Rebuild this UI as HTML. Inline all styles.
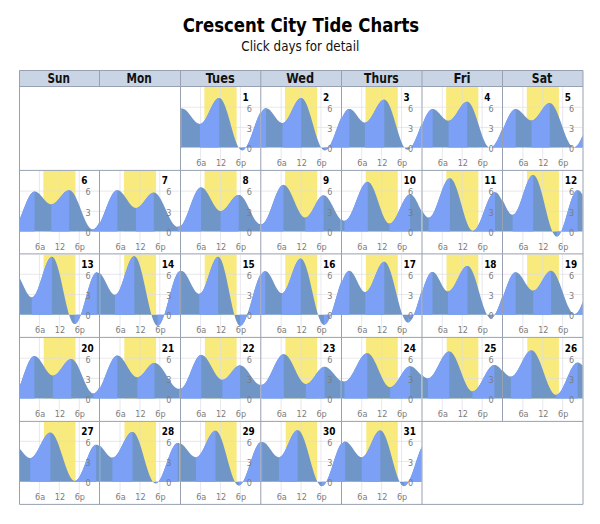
<!DOCTYPE html><html><head><meta charset="utf-8"><title>Crescent City Tide Charts</title><style>
html,body{margin:0;padding:0;background:#fff;}body{width:600px;height:524px;overflow:hidden;position:relative;}
svg{position:absolute;left:0;top:0;}
.t{font-family:"DejaVu Sans Condensed","DejaVu Sans",sans-serif;}
.dn{font-family:"DejaVu Sans Condensed","DejaVu Sans",sans-serif;font-weight:bold;font-size:9.9px;fill:#000;}
.yl{font-family:"DejaVu Sans Condensed","DejaVu Sans",sans-serif;font-size:9px;fill:#7c7c7c;}
.xl{font-family:"DejaVu Sans Condensed","DejaVu Sans",sans-serif;font-size:9px;fill:#7c7c7c;}
.hd{font-family:"DejaVu Sans Condensed","DejaVu Sans",sans-serif;font-weight:bold;font-size:13.4px;fill:#111;}
</style></head><body>
<svg width="600" height="524" viewBox="0 0 600 524">
<text class="t" transform="translate(300.95 31.7) scale(1 1.06)" x="0" y="0" text-anchor="middle" textLength="236.5" lengthAdjust="spacingAndGlyphs" style="font-weight:bold;font-size:18.4px;fill:#000">Crescent City Tide Charts</text>
<text class="t" x="300.3" y="51.4" text-anchor="middle" textLength="118" lengthAdjust="spacingAndGlyphs" style="font-size:13.2px;fill:#111">Click days for detail</text>
<rect x="19.5" y="70.5" width="563.5" height="16" fill="#C9D5E5"/>
<text class="hd" x="58.7" y="83" text-anchor="middle" textLength="22.4" lengthAdjust="spacingAndGlyphs">Sun</text>
<text class="hd" x="139.2" y="83" text-anchor="middle" textLength="25.2" lengthAdjust="spacingAndGlyphs">Mon</text>
<text class="hd" x="220.25" y="83" text-anchor="middle" textLength="29.1" lengthAdjust="spacingAndGlyphs">Tues</text>
<text class="hd" x="300.25" y="83" text-anchor="middle" textLength="27.9" lengthAdjust="spacingAndGlyphs">Wed</text>
<text class="hd" x="381.4" y="83" text-anchor="middle" textLength="34.6" lengthAdjust="spacingAndGlyphs">Thurs</text>
<text class="hd" x="462.05" y="83" text-anchor="middle" textLength="17.1" lengthAdjust="spacingAndGlyphs">Fri</text>
<text class="hd" x="542" y="83" text-anchor="middle" textLength="20.4" lengthAdjust="spacingAndGlyphs">Sat</text>
<clipPath id="c1"><rect x="180.69" y="87" width="79.6" height="78.6"/></clipPath>
<g clip-path="url(#c1)">
<rect x="204.34" y="87" width="32.3" height="60.6" fill="#F9EA7E"/>
<path d="M200.59 87V163.6M220.49 87V163.6M240.39 87V163.6M180.69 127.41H260.29M180.69 107.22H260.29" stroke="#DCDCE4" stroke-width="1" fill="none" opacity="0.65"/>
<polygon points="179.69,147.6 179.69,109.62 180.2,109.21 180.7,108.91 181.2,108.7 181.7,108.59 182.2,108.57 182.7,108.62 183.2,108.73 183.7,108.9 184.2,109.12 184.7,109.4 185.2,109.73 185.7,110.11 186.2,110.54 186.7,111.02 187.2,111.53 187.7,112.08 188.2,112.66 188.7,113.27 189.21,113.9 189.71,114.55 190.21,115.21 190.71,115.88 191.21,116.56 191.71,117.23 192.21,117.89 192.71,118.54 193.21,119.17 193.71,119.78 194.21,120.37 194.71,120.92 195.21,121.43 195.71,121.91 196.21,122.34 196.71,122.72 197.21,123.06 197.71,123.34 198.22,123.57 198.72,123.74 199.22,123.85 199.72,123.91 200.22,123.9 200.72,123.8 201.22,123.62 201.72,123.36 202.22,123.01 202.72,122.58 203.22,122.08 203.72,121.49 204.22,120.84 204.72,120.13 205.22,119.35 205.72,118.51 206.22,117.63 206.72,116.69 207.23,115.73 207.73,114.72 208.23,113.7 208.73,112.65 209.23,111.59 209.73,110.53 210.23,109.47 210.73,108.43 211.23,107.39 211.73,106.38 212.23,105.41 212.73,104.46 213.23,103.56 213.73,102.72 214.23,101.92 214.73,101.19 215.23,100.52 215.73,99.92 216.24,99.39 216.74,98.94 217.24,98.57 217.74,98.28 218.24,98.08 218.74,97.96 219.24,97.93 219.74,98.01 220.24,98.22 220.74,98.54 221.24,98.99 221.74,99.56 222.24,100.24 222.74,101.03 223.24,101.94 223.74,102.95 224.24,104.05 224.74,105.26 225.25,106.55 225.75,107.93 226.25,109.38 226.75,110.9 227.25,112.48 227.75,114.12 228.25,115.81 228.75,117.54 229.25,119.29 229.75,121.07 230.25,122.87 230.75,124.67 231.25,126.47 231.75,128.25 232.25,130.02 232.75,131.76 233.25,133.47 233.75,135.13 234.26,136.74 234.76,138.28 235.26,139.77 235.76,141.18 236.26,142.5 236.76,143.74 237.26,144.89 237.76,145.94 238.26,146.89 238.76,147.73 239.26,148.46 239.76,149.08 240.26,149.57 240.76,149.95 241.26,150.21 241.76,150.34 242.26,150.35 242.76,150.26 243.27,150.07 243.77,149.78 244.27,149.4 244.77,148.92 245.27,148.35 245.77,147.7 246.27,146.95 246.77,146.12 247.27,145.22 247.77,144.24 248.27,143.19 248.77,142.07 249.27,140.9 249.77,139.67 250.27,138.39 250.77,137.07 251.27,135.72 251.77,134.33 252.28,132.92 252.78,131.49 253.28,130.06 253.78,128.61 254.28,127.18 254.78,125.75 255.28,124.34 255.78,122.95 256.28,121.59 256.78,120.27 257.28,118.99 257.78,117.76 258.28,116.58 258.78,115.46 259.28,114.41 259.78,113.42 260.28,112.51 260.78,111.68 261.28,110.93 261.28,147.6" fill="#7096C8"/>
<polygon points="179.69,147.6 179.69,109.62 180.28,109.16 180.86,108.83 181.44,108.63 182.02,108.57 182.02,147.6" fill="#7BA0F5"/>
<polygon points="199.93,147.6 199.93,123.91 200.43,123.87 200.94,123.73 201.45,123.51 201.95,123.21 202.46,122.82 202.96,122.34 203.47,121.8 203.98,121.17 204.48,120.48 204.99,119.72 205.5,118.9 206,118.03 206.51,117.1 207.01,116.14 207.52,115.14 208.03,114.11 208.53,113.06 209.04,111.99 209.54,110.92 210.05,109.85 210.56,108.78 211.06,107.73 211.57,106.7 212.08,105.7 212.58,104.74 213.09,103.82 213.59,102.94 214.1,102.12 214.61,101.37 215.11,100.67 215.62,100.05 216.13,99.5 216.63,99.03 217.14,98.64 217.64,98.33 218.15,98.11 218.66,97.98 219.16,97.93 219.16,147.6" fill="#7BA0F5"/>
<polygon points="242.05,147.6 242.05,150.36 242.55,150.31 243.06,150.16 243.57,149.91 244.07,149.56 244.58,149.11 245.09,148.57 245.59,147.94 246.1,147.21 246.6,146.41 247.11,145.51 247.62,144.55 248.12,143.51 248.63,142.4 249.14,141.22 249.64,140 250.15,138.72 250.65,137.39 251.16,136.03 251.67,134.63 252.17,133.21 252.68,131.77 253.19,130.32 253.69,128.86 254.2,127.4 254.7,125.96 255.21,124.53 255.72,123.12 256.22,121.74 256.73,120.4 257.24,119.1 257.74,117.85 258.25,116.66 258.75,115.52 259.26,114.45 259.77,113.46 260.27,112.53 260.78,111.69 261.28,110.93 261.28,147.6" fill="#7BA0F5"/>
</g>
<text class="yl" x="249.34" y="111.52" text-anchor="middle">6</text>
<text class="yl" x="249.34" y="131.71" text-anchor="middle">3</text>
<text class="yl" x="249.34" y="151.9" text-anchor="middle">0</text>
<text class="xl" x="201.19" y="165.7" text-anchor="middle">6a</text>
<text class="xl" x="221.09" y="165.7" text-anchor="middle">12</text>
<text class="xl" x="240.99" y="165.7" text-anchor="middle">6p</text>
<text class="dn" x="242.44" y="100.5">1</text>
<clipPath id="c2"><rect x="261.26" y="87" width="79.6" height="78.6"/></clipPath>
<g clip-path="url(#c2)">
<rect x="284.94" y="87" width="32.27" height="60.6" fill="#F9EA7E"/>
<path d="M281.16 87V163.6M301.06 87V163.6M320.96 87V163.6M261.26 127.41H340.86M261.26 107.22H340.86" stroke="#DCDCE4" stroke-width="1" fill="none" opacity="0.65"/>
<polygon points="260.26,147.6 260.26,114.38 260.77,113.4 261.27,112.49 261.77,111.66 262.27,110.92 262.77,110.26 263.27,109.68 263.77,109.2 264.27,108.82 264.77,108.53 265.27,108.33 265.77,108.24 266.27,108.24 266.77,108.31 267.27,108.44 267.77,108.65 268.27,108.91 268.77,109.23 269.27,109.62 269.78,110.05 270.28,110.54 270.78,111.07 271.28,111.65 271.78,112.26 272.28,112.9 272.78,113.57 273.28,114.25 273.78,114.95 274.28,115.65 274.78,116.35 275.28,117.05 275.78,117.73 276.28,118.39 276.78,119.03 277.28,119.63 277.78,120.2 278.28,120.73 278.79,121.21 279.29,121.64 279.79,122.01 280.29,122.33 280.79,122.59 281.29,122.78 281.79,122.9 282.29,122.96 282.79,122.95 283.29,122.85 283.79,122.67 284.29,122.4 284.79,122.04 285.29,121.61 285.79,121.09 286.29,120.5 286.79,119.84 287.29,119.12 287.8,118.33 288.3,117.49 288.8,116.59 289.3,115.66 289.8,114.69 290.3,113.68 290.8,112.66 291.3,111.62 291.8,110.57 292.3,109.52 292.8,108.48 293.3,107.45 293.8,106.44 294.3,105.46 294.8,104.51 295.3,103.61 295.8,102.76 296.3,101.96 296.81,101.22 297.31,100.54 297.81,99.93 298.31,99.4 298.81,98.95 299.31,98.57 299.81,98.28 300.31,98.08 300.81,97.96 301.31,97.93 301.81,98.01 302.31,98.21 302.81,98.53 303.31,98.96 303.81,99.5 304.31,100.16 304.81,100.92 305.31,101.79 305.82,102.76 306.32,103.83 306.82,104.99 307.32,106.23 307.82,107.56 308.32,108.96 308.82,110.43 309.32,111.96 309.82,113.55 310.32,115.18 310.82,116.86 311.32,118.57 311.82,120.3 312.32,122.05 312.82,123.81 313.32,125.58 313.82,127.33 314.32,129.07 314.83,130.79 315.33,132.48 315.83,134.13 316.33,135.74 316.83,137.29 317.33,138.79 317.83,140.22 318.33,141.57 318.83,142.85 319.33,144.04 319.83,145.14 320.33,146.15 320.83,147.06 321.33,147.86 321.83,148.56 322.33,149.14 322.83,149.62 323.33,149.98 323.84,150.22 324.34,150.34 324.84,150.35 325.34,150.26 325.84,150.09 326.34,149.82 326.84,149.46 327.34,149.02 327.84,148.49 328.34,147.88 328.84,147.19 329.34,146.43 329.84,145.59 330.34,144.68 330.84,143.7 331.34,142.66 331.84,141.57 332.34,140.42 332.85,139.22 333.35,137.99 333.85,136.71 334.35,135.41 334.85,134.08 335.35,132.73 335.85,131.37 336.35,130 336.85,128.62 337.35,127.26 337.85,125.9 338.35,124.56 338.85,123.24 339.35,121.95 339.85,120.69 340.35,119.47 340.85,118.3 341.35,117.18 341.85,116.11 341.85,147.6" fill="#7096C8"/>
<polygon points="260.26,147.6 260.26,114.38 260.79,113.36 261.31,112.42 261.83,111.56 262.35,110.8 262.87,110.13 263.39,109.55 263.92,109.08 264.44,108.71 264.96,108.44 265.48,108.28 266,108.23 266,147.6" fill="#7BA0F5"/>
<polygon points="282.49,147.6 282.49,122.97 282.99,122.92 283.5,122.79 284.01,122.56 284.51,122.25 285.02,121.86 285.53,121.38 286.03,120.82 286.54,120.19 287.04,119.49 287.55,118.72 288.06,117.89 288.56,117.01 289.07,116.09 289.58,115.12 290.08,114.12 290.59,113.09 291.1,112.04 291.6,110.98 292.11,109.92 292.62,108.86 293.12,107.81 293.63,106.78 294.14,105.78 294.64,104.81 295.15,103.89 295.65,103.01 296.16,102.18 296.67,101.41 297.17,100.71 297.68,100.08 298.19,99.52 298.69,99.04 299.2,98.65 299.71,98.34 300.21,98.11 300.72,97.98 301.23,97.93 301.23,147.6" fill="#7BA0F5"/>
<polygon points="324.61,147.6 324.61,150.36 325.12,150.31 325.62,150.17 326.13,149.94 326.64,149.62 327.14,149.2 327.65,148.7 328.16,148.11 328.67,147.44 329.17,146.69 329.68,145.86 330.19,144.96 330.7,143.99 331.2,142.96 331.71,141.86 332.22,140.72 332.72,139.52 333.23,138.27 333.74,136.99 334.25,135.67 334.75,134.33 335.26,132.97 335.77,131.59 336.28,130.2 336.78,128.81 337.29,127.42 337.8,126.04 338.3,124.68 338.81,123.34 339.32,122.03 339.83,120.76 340.33,119.52 340.84,118.33 341.35,117.19 341.85,116.11 341.85,147.6" fill="#7BA0F5"/>
</g>
<text class="yl" x="329.91" y="111.52" text-anchor="middle">6</text>
<text class="yl" x="329.91" y="131.71" text-anchor="middle">3</text>
<text class="yl" x="329.91" y="151.9" text-anchor="middle">0</text>
<text class="xl" x="281.76" y="165.7" text-anchor="middle">6a</text>
<text class="xl" x="301.66" y="165.7" text-anchor="middle">12</text>
<text class="xl" x="321.56" y="165.7" text-anchor="middle">6p</text>
<text class="dn" x="323.01" y="100.5">2</text>
<clipPath id="c3"><rect x="341.83" y="87" width="79.6" height="78.6"/></clipPath>
<g clip-path="url(#c3)">
<rect x="365.53" y="87" width="32.25" height="60.6" fill="#F9EA7E"/>
<path d="M361.73 87V163.6M381.63 87V163.6M401.53 87V163.6M341.83 127.41H421.43M341.83 107.22H421.43" stroke="#DCDCE4" stroke-width="1" fill="none" opacity="0.65"/>
<polygon points="340.83,147.6 340.83,120.66 341.34,119.44 341.84,118.27 342.34,117.15 342.84,116.08 343.34,115.07 343.84,114.13 344.34,113.25 344.84,112.45 345.34,111.72 345.84,111.07 346.34,110.5 346.84,110.01 347.34,109.61 347.84,109.3 348.34,109.08 348.84,108.94 349.34,108.9 349.84,108.94 350.35,109.05 350.85,109.22 351.35,109.46 351.85,109.76 352.35,110.13 352.85,110.55 353.35,111.02 353.85,111.54 354.35,112.1 354.85,112.7 355.35,113.33 355.85,113.99 356.35,114.66 356.85,115.34 357.35,116.03 357.85,116.72 358.35,117.39 358.85,118.05 359.36,118.68 359.86,119.29 360.36,119.85 360.86,120.38 361.36,120.86 361.86,121.29 362.36,121.66 362.86,121.97 363.36,122.22 363.86,122.4 364.36,122.52 364.86,122.56 365.36,122.54 365.86,122.44 366.36,122.26 366.86,122.01 367.36,121.69 367.86,121.3 368.37,120.84 368.87,120.32 369.37,119.73 369.87,119.09 370.37,118.39 370.87,117.65 371.37,116.87 371.87,116.04 372.37,115.18 372.87,114.3 373.37,113.39 373.87,112.47 374.37,111.54 374.87,110.61 375.37,109.68 375.87,108.76 376.37,107.85 376.87,106.97 377.38,106.11 377.88,105.29 378.38,104.51 378.88,103.76 379.38,103.07 379.88,102.43 380.38,101.85 380.88,101.33 381.38,100.87 381.88,100.48 382.38,100.16 382.88,99.91 383.38,99.74 383.88,99.64 384.38,99.62 384.88,99.7 385.38,99.9 385.88,100.21 386.39,100.63 386.89,101.17 387.39,101.81 387.89,102.56 388.39,103.41 388.89,104.37 389.39,105.41 389.89,106.54 390.39,107.76 390.89,109.06 391.39,110.43 391.89,111.86 392.39,113.35 392.89,114.9 393.39,116.49 393.89,118.12 394.39,119.78 394.89,121.46 395.4,123.15 395.9,124.86 396.4,126.56 396.9,128.25 397.4,129.93 397.9,131.58 398.4,133.19 398.9,134.77 399.4,136.3 399.9,137.78 400.4,139.2 400.9,140.55 401.4,141.82 401.9,143.02 402.4,144.13 402.9,145.15 403.4,146.07 403.9,146.89 404.41,147.61 404.91,148.23 405.41,148.73 405.91,149.13 406.41,149.41 406.91,149.57 407.41,149.62 407.91,149.57 408.41,149.44 408.91,149.22 409.41,148.92 409.91,148.53 410.41,148.07 410.91,147.53 411.41,146.91 411.91,146.22 412.41,145.45 412.91,144.63 413.42,143.73 413.92,142.78 414.42,141.77 414.92,140.71 415.42,139.6 415.92,138.44 416.42,137.25 416.92,136.03 417.42,134.78 417.92,133.5 418.42,132.21 418.92,130.9 419.42,129.59 419.92,128.28 420.42,126.97 420.92,125.68 421.42,124.39 421.92,123.13 422.42,121.9 422.42,147.6" fill="#7096C8"/>
<polygon points="340.83,147.6 340.83,120.66 341.37,119.37 341.9,118.13 342.43,116.95 342.96,115.83 343.49,114.78 344.02,113.8 344.55,112.9 345.08,112.09 345.61,111.36 346.14,110.71 346.67,110.17 347.2,109.71 347.73,109.36 348.26,109.11 348.8,108.95 349.33,108.9 349.33,147.6" fill="#7BA0F5"/>
<polygon points="364.95,147.6 364.95,122.56 365.46,122.53 365.96,122.41 366.47,122.21 366.98,121.94 367.49,121.6 368,121.18 368.51,120.7 369.02,120.14 369.53,119.53 370.04,118.86 370.54,118.14 371.05,117.37 371.56,116.55 372.07,115.7 372.58,114.82 373.09,113.91 373.6,112.98 374.11,112.04 374.62,111.09 375.12,110.14 375.63,109.2 376.14,108.27 376.65,107.36 377.16,106.48 377.67,105.63 378.18,104.81 378.69,104.04 379.19,103.32 379.7,102.65 380.21,102.03 380.72,101.48 381.23,101 381.74,100.58 382.25,100.24 382.76,99.97 383.27,99.77 383.77,99.65 384.28,99.62 384.28,147.6" fill="#7BA0F5"/>
<polygon points="407.37,147.6 407.37,149.62 407.87,149.58 408.37,149.45 408.87,149.24 409.38,148.94 409.88,148.56 410.38,148.1 410.88,147.56 411.38,146.95 411.88,146.26 412.39,145.5 412.89,144.67 413.39,143.78 413.89,142.82 414.39,141.81 414.9,140.75 415.4,139.64 415.9,138.48 416.4,137.29 416.9,136.07 417.41,134.81 417.91,133.53 418.41,132.24 418.91,130.93 419.41,129.62 419.92,128.3 420.42,126.99 420.92,125.69 421.42,124.4 421.92,123.14 422.42,121.9 422.42,147.6" fill="#7BA0F5"/>
</g>
<text class="yl" x="410.48" y="111.52" text-anchor="middle">6</text>
<text class="yl" x="410.48" y="131.71" text-anchor="middle">3</text>
<text class="yl" x="410.48" y="151.9" text-anchor="middle">0</text>
<text class="xl" x="362.33" y="165.7" text-anchor="middle">6a</text>
<text class="xl" x="382.23" y="165.7" text-anchor="middle">12</text>
<text class="xl" x="402.13" y="165.7" text-anchor="middle">6p</text>
<text class="dn" x="403.58" y="100.5">3</text>
<clipPath id="c4"><rect x="422.4" y="87" width="79.6" height="78.6"/></clipPath>
<g clip-path="url(#c4)">
<rect x="446.13" y="87" width="32.22" height="60.6" fill="#F9EA7E"/>
<path d="M442.3 87V163.6M462.2 87V163.6M482.1 87V163.6M422.4 127.41H502M422.4 107.22H502" stroke="#DCDCE4" stroke-width="1" fill="none" opacity="0.65"/>
<polygon points="421.4,147.6 421.4,126.94 421.91,125.64 422.41,124.36 422.91,123.1 423.41,121.87 423.91,120.66 424.41,119.49 424.91,118.37 425.41,117.29 425.91,116.26 426.41,115.28 426.91,114.36 427.41,113.51 427.91,112.72 428.41,112 428.91,111.36 429.41,110.78 429.91,110.29 430.41,109.88 430.92,109.54 431.42,109.29 431.92,109.13 432.42,109.05 432.92,109.05 433.42,109.1 433.92,109.22 434.42,109.39 434.92,109.61 435.42,109.89 435.92,110.21 436.42,110.58 436.92,111 437.42,111.44 437.92,111.93 438.42,112.44 438.92,112.97 439.42,113.53 439.93,114.09 440.43,114.67 440.93,115.24 441.43,115.82 441.93,116.38 442.43,116.93 442.93,117.45 443.43,117.96 443.93,118.43 444.43,118.87 444.93,119.26 445.43,119.62 445.93,119.93 446.43,120.18 446.93,120.39 447.43,120.54 447.93,120.64 448.43,120.68 448.94,120.66 449.44,120.57 449.94,120.42 450.44,120.2 450.94,119.91 451.44,119.57 451.94,119.16 452.44,118.7 452.94,118.18 453.44,117.62 453.94,117.01 454.44,116.35 454.94,115.66 455.44,114.94 455.94,114.2 456.44,113.43 456.94,112.64 457.44,111.85 457.95,111.05 458.45,110.25 458.95,109.46 459.45,108.68 459.95,107.91 460.45,107.17 460.95,106.46 461.45,105.79 461.95,105.15 462.45,104.55 462.95,104.01 463.45,103.51 463.95,103.07 464.45,102.68 464.95,102.36 465.45,102.1 465.95,101.9 466.45,101.77 466.96,101.71 467.46,101.72 467.96,101.83 468.46,102.06 468.96,102.39 469.46,102.82 469.96,103.36 470.46,104 470.96,104.74 471.46,105.58 471.96,106.5 472.46,107.51 472.96,108.6 473.46,109.77 473.96,111.01 474.46,112.31 474.96,113.67 475.46,115.08 475.97,116.54 476.47,118.04 476.97,119.57 477.47,121.13 477.97,122.7 478.47,124.28 478.97,125.86 479.47,127.44 479.97,129.01 480.47,130.55 480.97,132.07 481.47,133.55 481.97,134.99 482.47,136.39 482.97,137.73 483.47,139 483.97,140.21 484.47,141.35 484.98,142.41 485.48,143.39 485.98,144.27 486.48,145.07 486.98,145.77 487.48,146.37 487.98,146.87 488.48,147.26 488.98,147.55 489.48,147.73 489.98,147.8 490.48,147.77 490.98,147.67 491.48,147.48 491.98,147.22 492.48,146.89 492.98,146.47 493.48,145.99 493.99,145.43 494.49,144.81 494.99,144.11 495.49,143.36 495.99,142.54 496.49,141.67 496.99,140.74 497.49,139.76 497.99,138.74 498.49,137.67 498.99,136.57 499.49,135.43 499.99,134.26 500.49,133.08 500.99,131.87 501.49,130.65 501.99,129.42 502.49,128.18 502.99,126.95 502.99,147.6" fill="#7096C8"/>
<polygon points="421.4,147.6 421.4,126.94 421.92,125.62 422.43,124.31 422.94,123.02 423.45,121.76 423.96,120.54 424.47,119.35 424.98,118.21 425.49,117.11 426,116.07 426.52,115.08 427.03,114.16 427.54,113.3 428.05,112.52 428.56,111.8 429.07,111.17 429.58,110.61 430.09,110.13 430.6,109.74 431.12,109.43 431.63,109.21 432.14,109.08 432.65,109.04 432.65,147.6" fill="#7BA0F5"/>
<polygon points="448.54,147.6 448.54,120.68 449.04,120.65 449.54,120.54 450.05,120.37 450.55,120.14 451.05,119.84 451.56,119.47 452.06,119.05 452.57,118.57 453.07,118.04 453.57,117.46 454.08,116.83 454.58,116.17 455.08,115.46 455.59,114.73 456.09,113.97 456.6,113.19 457.1,112.4 457.6,111.59 458.11,110.79 458.61,109.99 459.11,109.19 459.62,108.41 460.12,107.65 460.63,106.92 461.13,106.22 461.63,105.55 462.14,104.92 462.64,104.34 463.14,103.81 463.65,103.33 464.15,102.91 464.66,102.54 465.16,102.24 465.66,102.01 466.17,101.84 466.67,101.74 467.17,101.7 467.17,147.6" fill="#7BA0F5"/>
<polygon points="490.06,147.6 490.06,147.8 490.58,147.76 491.09,147.63 491.61,147.42 492.13,147.13 492.65,146.76 493.16,146.31 493.68,145.78 494.2,145.17 494.72,144.49 495.23,143.75 495.75,142.93 496.27,142.06 496.79,141.12 497.3,140.13 497.82,139.09 498.34,138 498.86,136.87 499.37,135.7 499.89,134.5 500.41,133.28 500.93,132.03 501.44,130.77 501.96,129.5 502.48,128.22 502.99,126.95 502.99,147.6" fill="#7BA0F5"/>
</g>
<text class="yl" x="491.05" y="111.52" text-anchor="middle">6</text>
<text class="yl" x="491.05" y="131.71" text-anchor="middle">3</text>
<text class="yl" x="491.05" y="151.9" text-anchor="middle">0</text>
<text class="xl" x="442.9" y="165.7" text-anchor="middle">6a</text>
<text class="xl" x="462.8" y="165.7" text-anchor="middle">12</text>
<text class="xl" x="482.7" y="165.7" text-anchor="middle">6p</text>
<text class="dn" x="484.15" y="100.5">4</text>
<clipPath id="c5"><rect x="502.97" y="87" width="79.6" height="78.6"/></clipPath>
<g clip-path="url(#c5)">
<rect x="526.73" y="87" width="32.19" height="60.6" fill="#F9EA7E"/>
<path d="M522.87 87V163.6M542.77 87V163.6M562.67 87V163.6M502.97 127.41H582.57M502.97 107.22H582.57" stroke="#DCDCE4" stroke-width="1" fill="none" opacity="0.65"/>
<polygon points="501.97,147.6 501.97,131.84 502.48,130.62 502.98,129.39 503.48,128.15 503.98,126.92 504.48,125.69 504.98,124.47 505.48,123.27 505.98,122.09 506.48,120.94 506.98,119.82 507.48,118.73 507.98,117.68 508.48,116.67 508.98,115.71 509.48,114.81 509.98,113.96 510.48,113.16 510.98,112.43 511.49,111.77 511.99,111.17 512.49,110.64 512.99,110.19 513.49,109.8 513.99,109.5 514.49,109.27 514.99,109.12 515.49,109.04 515.99,109.05 516.49,109.11 516.99,109.22 517.49,109.39 517.99,109.61 518.49,109.88 518.99,110.2 519.49,110.56 519.99,110.96 520.5,111.4 521,111.88 521.5,112.38 522,112.9 522.5,113.44 523,113.99 523.5,114.55 524,115.12 524.5,115.68 525,116.23 525.5,116.76 526,117.27 526.5,117.76 527,118.22 527.5,118.65 528,119.04 528.5,119.38 529,119.68 529.51,119.93 530.01,120.13 530.51,120.28 531.01,120.37 531.51,120.41 532.01,120.39 532.51,120.3 533.01,120.15 533.51,119.94 534.01,119.66 534.51,119.33 535.01,118.93 535.51,118.49 536.01,117.99 536.51,117.45 537.01,116.86 537.51,116.23 538.01,115.57 538.52,114.89 539.02,114.17 539.52,113.44 540.02,112.7 540.52,111.95 541.02,111.2 541.52,110.45 542.02,109.71 542.52,108.99 543.02,108.28 543.52,107.61 544.02,106.96 544.52,106.35 545.02,105.78 545.52,105.26 546.02,104.78 546.52,104.36 547.02,103.99 547.53,103.68 548.03,103.42 548.53,103.24 549.03,103.11 549.53,103.05 550.03,103.06 550.53,103.16 551.03,103.36 551.53,103.64 552.03,104.02 552.53,104.49 553.03,105.04 553.53,105.68 554.03,106.4 554.53,107.2 555.03,108.07 555.53,109.02 556.03,110.03 556.54,111.11 557.04,112.25 557.54,113.44 558.04,114.68 558.54,115.97 559.04,117.29 559.54,118.65 560.04,120.03 560.54,121.44 561.04,122.86 561.54,124.29 562.04,125.73 562.54,127.16 563.04,128.59 563.54,130 564.04,131.39 564.54,132.75 565.04,134.08 565.55,135.38 566.05,136.63 566.55,137.83 567.05,138.98 567.55,140.07 568.05,141.1 568.55,142.06 569.05,142.95 569.55,143.76 570.05,144.5 570.55,145.15 571.05,145.72 571.55,146.2 572.05,146.6 572.55,146.9 573.05,147.12 573.55,147.23 574.05,147.26 574.56,147.2 575.06,147.05 575.56,146.81 576.06,146.49 576.56,146.09 577.06,145.6 577.56,145.04 578.06,144.39 578.56,143.68 579.06,142.89 579.56,142.03 580.06,141.11 580.56,140.13 581.06,139.09 581.56,138 582.06,136.87 582.56,135.69 583.06,134.48 583.56,133.24 583.56,147.6" fill="#7096C8"/>
<polygon points="501.97,147.6 501.97,131.84 502.48,130.6 502.99,129.35 503.5,128.09 504.01,126.84 504.52,125.59 505.03,124.36 505.53,123.14 506.04,121.94 506.55,120.78 507.06,119.64 507.57,118.54 508.08,117.48 508.59,116.47 509.09,115.51 509.6,114.6 510.11,113.75 510.62,112.96 511.13,112.24 511.64,111.58 512.15,110.99 512.65,110.48 513.16,110.04 513.67,109.68 514.18,109.4 514.69,109.2 515.2,109.08 515.71,109.04 515.71,147.6" fill="#7BA0F5"/>
<polygon points="531.59,147.6 531.59,120.41 532.1,120.38 532.6,120.28 533.1,120.11 533.61,119.89 534.11,119.6 534.62,119.25 535.12,118.84 535.62,118.38 536.13,117.87 536.63,117.31 537.14,116.71 537.64,116.07 538.14,115.4 538.65,114.7 539.15,113.98 539.66,113.24 540.16,112.49 540.66,111.73 541.17,110.97 541.67,110.22 542.18,109.48 542.68,108.76 543.18,108.06 543.69,107.39 544.19,106.75 544.7,106.15 545.2,105.59 545.7,105.08 546.21,104.62 546.71,104.21 547.22,103.86 547.72,103.57 548.22,103.34 548.73,103.18 549.23,103.08 549.73,103.05 549.73,147.6" fill="#7BA0F5"/>
<polygon points="573.95,147.6 573.95,147.26 574.45,147.22 574.96,147.09 575.47,146.86 575.97,146.55 576.48,146.16 576.98,145.68 577.49,145.12 578,144.48 578.5,143.76 579.01,142.97 579.52,142.11 580.02,141.18 580.53,140.2 581.03,139.15 581.54,138.05 582.05,136.91 582.55,135.72 583.06,134.49 583.56,133.24 583.56,147.6" fill="#7BA0F5"/>
</g>
<text class="yl" x="571.62" y="111.52" text-anchor="middle">6</text>
<text class="yl" x="571.62" y="131.71" text-anchor="middle">3</text>
<text class="yl" x="571.62" y="151.9" text-anchor="middle">0</text>
<text class="xl" x="523.47" y="165.7" text-anchor="middle">6a</text>
<text class="xl" x="543.37" y="165.7" text-anchor="middle">12</text>
<text class="xl" x="563.27" y="165.7" text-anchor="middle">6p</text>
<text class="dn" x="564.72" y="100.5">5</text>
<clipPath id="c6"><rect x="19.55" y="170.9" width="79.6" height="78.6"/></clipPath>
<g clip-path="url(#c6)">
<rect x="43.33" y="170.9" width="32.17" height="60.6" fill="#F9EA7E"/>
<path d="M39.45 170.9V247.5M59.35 170.9V247.5M79.25 170.9V247.5M19.55 211.31H99.15M19.55 191.12H99.15" stroke="#DCDCE4" stroke-width="1" fill="none" opacity="0.65"/>
<polygon points="18.56,231.5 18.56,221.88 19.06,220.74 19.56,219.56 20.06,218.35 20.56,217.11 21.06,215.84 21.56,214.55 22.06,213.24 22.56,211.93 23.06,210.62 23.56,209.31 24.06,208.01 24.56,206.72 25.06,205.45 25.56,204.21 26.06,203 26.56,201.83 27.06,200.7 27.56,199.61 28.07,198.58 28.57,197.6 29.07,196.69 29.57,195.83 30.07,195.05 30.57,194.34 31.07,193.7 31.57,193.14 32.07,192.66 32.57,192.26 33.07,191.95 33.57,191.72 34.07,191.58 34.57,191.52 35.07,191.55 35.57,191.62 36.07,191.76 36.57,191.95 37.08,192.19 37.58,192.49 38.08,192.83 38.58,193.22 39.08,193.65 39.58,194.12 40.08,194.63 40.58,195.16 41.08,195.72 41.58,196.3 42.08,196.89 42.58,197.49 43.08,198.1 43.58,198.7 44.08,199.3 44.58,199.88 45.08,200.45 45.58,201 46.09,201.51 46.59,202 47.09,202.45 47.59,202.85 48.09,203.21 48.59,203.53 49.09,203.79 49.59,204.01 50.09,204.16 50.59,204.26 51.09,204.31 51.59,204.3 52.09,204.23 52.59,204.11 53.09,203.94 53.59,203.71 54.09,203.44 54.59,203.12 55.1,202.75 55.6,202.35 56.1,201.9 56.6,201.42 57.1,200.9 57.6,200.36 58.1,199.8 58.6,199.21 59.1,198.61 59.6,198 60.1,197.38 60.6,196.76 61.1,196.15 61.6,195.54 62.1,194.95 62.6,194.38 63.1,193.82 63.6,193.3 64.11,192.8 64.61,192.34 65.11,191.91 65.61,191.53 66.11,191.19 66.61,190.89 67.11,190.64 67.61,190.45 68.11,190.31 68.61,190.22 69.11,190.18 69.61,190.21 70.11,190.32 70.61,190.53 71.11,190.82 71.61,191.19 72.11,191.65 72.61,192.19 73.12,192.8 73.62,193.5 74.12,194.26 74.62,195.1 75.12,196 75.62,196.96 76.12,197.98 76.62,199.06 77.12,200.18 77.62,201.34 78.12,202.55 78.62,203.78 79.12,205.04 79.62,206.32 80.12,207.62 80.62,208.93 81.12,210.24 81.62,211.55 82.13,212.85 82.63,214.14 83.13,215.41 83.63,216.65 84.13,217.86 84.63,219.03 85.13,220.17 85.63,221.25 86.13,222.29 86.63,223.27 87.13,224.19 87.63,225.04 88.13,225.83 88.63,226.54 89.13,227.18 89.63,227.74 90.13,228.22 90.63,228.62 91.14,228.93 91.64,229.15 92.14,229.29 92.64,229.35 93.14,229.31 93.64,229.19 94.14,228.98 94.64,228.69 95.14,228.31 95.64,227.85 96.14,227.32 96.64,226.7 97.14,226.01 97.64,225.25 98.14,224.42 98.64,223.52 99.14,222.56 99.64,221.55 100.15,220.49 100.15,231.5" fill="#7096C8"/>
<polygon points="18.56,231.5 18.56,221.88 19.06,220.73 19.56,219.55 20.06,218.33 20.57,217.08 21.07,215.81 21.57,214.51 22.07,213.21 22.58,211.89 23.08,210.57 23.58,209.25 24.08,207.95 24.59,206.65 25.09,205.38 25.59,204.14 26.1,202.92 26.6,201.75 27.1,200.62 27.6,199.53 28.11,198.5 28.61,197.52 29.11,196.61 29.61,195.76 30.12,194.98 30.62,194.27 31.12,193.64 31.62,193.08 32.13,192.61 32.63,192.22 33.13,191.92 33.64,191.7 34.14,191.57 34.64,191.52 34.64,231.5" fill="#7BA0F5"/>
<polygon points="51.22,231.5 51.22,204.31 51.74,204.28 52.25,204.2 52.76,204.06 53.28,203.86 53.79,203.61 54.31,203.31 54.82,202.96 55.33,202.57 55.85,202.13 56.36,201.65 56.87,201.14 57.39,200.59 57.9,200.02 58.41,199.43 58.93,198.82 59.44,198.19 59.96,197.56 60.47,196.93 60.98,196.3 61.5,195.67 62.01,195.06 62.52,194.47 63.04,193.9 63.55,193.35 64.06,192.84 64.58,192.36 65.09,191.92 65.61,191.53 66.12,191.18 66.63,190.88 67.15,190.63 67.66,190.43 68.17,190.29 68.69,190.21 69.2,190.18 69.2,231.5" fill="#7BA0F5"/>
<polygon points="92.68,231.5 92.68,229.35 93.22,229.3 93.75,229.15 94.28,228.91 94.81,228.57 95.35,228.13 95.88,227.61 96.41,226.99 96.95,226.29 97.48,225.5 98.01,224.64 98.55,223.7 99.08,222.69 99.61,221.62 100.15,220.49 100.15,231.5" fill="#7BA0F5"/>
</g>
<text class="yl" x="88.2" y="195.42" text-anchor="middle">6</text>
<text class="yl" x="88.2" y="215.61" text-anchor="middle">3</text>
<text class="yl" x="88.2" y="235.8" text-anchor="middle">0</text>
<text class="xl" x="40.05" y="249.6" text-anchor="middle">6a</text>
<text class="xl" x="59.95" y="249.6" text-anchor="middle">12</text>
<text class="xl" x="79.85" y="249.6" text-anchor="middle">6p</text>
<text class="dn" x="81.3" y="184.4">6</text>
<clipPath id="c7"><rect x="100.12" y="170.9" width="79.6" height="78.6"/></clipPath>
<g clip-path="url(#c7)">
<rect x="123.93" y="170.9" width="32.14" height="60.6" fill="#F9EA7E"/>
<path d="M120.02 170.9V247.5M139.92 170.9V247.5M159.82 170.9V247.5M100.12 211.31H179.72M100.12 191.12H179.72" stroke="#DCDCE4" stroke-width="1" fill="none" opacity="0.65"/>
<polygon points="99.12,231.5 99.12,224.39 99.63,223.5 100.13,222.54 100.63,221.52 101.13,220.46 101.63,219.34 102.13,218.19 102.63,217 103.13,215.77 103.63,214.52 104.13,213.25 104.63,211.96 105.13,210.66 105.63,209.36 106.13,208.06 106.63,206.76 107.13,205.48 107.63,204.22 108.13,202.99 108.64,201.78 109.14,200.61 109.64,199.48 110.14,198.4 110.64,197.36 111.14,196.38 111.64,195.46 112.14,194.6 112.64,193.81 113.14,193.09 113.64,192.45 114.14,191.88 114.64,191.39 115.14,190.98 115.64,190.65 116.14,190.41 116.64,190.25 117.14,190.18 117.65,190.19 118.15,190.27 118.65,190.41 119.15,190.6 119.65,190.86 120.15,191.18 120.65,191.56 121.15,191.98 121.65,192.46 122.15,192.98 122.65,193.55 123.15,194.16 123.65,194.8 124.15,195.47 124.65,196.17 125.15,196.89 125.65,197.62 126.15,198.37 126.66,199.11 127.16,199.86 127.66,200.61 128.16,201.34 128.66,202.05 129.16,202.75 129.66,203.41 130.16,204.05 130.66,204.65 131.16,205.22 131.66,205.73 132.16,206.2 132.66,206.62 133.16,206.99 133.66,207.3 134.16,207.55 134.66,207.74 135.16,207.87 135.67,207.94 136.17,207.94 136.67,207.88 137.17,207.77 137.67,207.6 138.17,207.37 138.67,207.08 139.17,206.75 139.67,206.36 140.17,205.93 140.67,205.45 141.17,204.94 141.67,204.38 142.17,203.8 142.67,203.19 143.17,202.55 143.67,201.9 144.17,201.24 144.68,200.57 145.18,199.9 145.68,199.22 146.18,198.56 146.68,197.91 147.18,197.28 147.68,196.67 148.18,196.09 148.68,195.55 149.18,195.03 149.68,194.56 150.18,194.14 150.68,193.76 151.18,193.43 151.68,193.15 152.18,192.93 152.68,192.76 153.18,192.65 153.69,192.6 154.19,192.62 154.69,192.7 155.19,192.86 155.69,193.1 156.19,193.4 156.69,193.78 157.19,194.22 157.69,194.74 158.19,195.31 158.69,195.95 159.19,196.65 159.69,197.41 160.19,198.21 160.69,199.07 161.19,199.98 161.69,200.92 162.19,201.91 162.7,202.93 163.2,203.97 163.7,205.05 164.2,206.14 164.7,207.25 165.2,208.36 165.7,209.49 166.2,210.61 166.7,211.74 167.2,212.85 167.7,213.95 168.2,215.03 168.7,216.08 169.2,217.11 169.7,218.11 170.2,219.07 170.7,219.99 171.2,220.87 171.71,221.69 172.21,222.47 172.71,223.19 173.21,223.85 173.71,224.45 174.21,224.99 174.71,225.46 175.21,225.86 175.71,226.19 176.21,226.45 176.71,226.64 177.21,226.75 177.71,226.79 178.21,226.74 178.71,226.6 179.21,226.36 179.71,226.03 180.21,225.6 180.72,225.08 180.72,231.5" fill="#7096C8"/>
<polygon points="99.12,231.5 99.12,224.39 99.63,223.49 100.13,222.52 100.64,221.5 101.14,220.42 101.65,219.3 102.15,218.13 102.66,216.92 103.16,215.68 103.67,214.42 104.17,213.13 104.68,211.83 105.18,210.52 105.69,209.21 106.19,207.9 106.7,206.6 107.2,205.31 107.71,204.04 108.21,202.8 108.72,201.59 109.22,200.41 109.73,199.28 110.23,198.2 110.74,197.16 111.24,196.19 111.75,195.27 112.25,194.42 112.76,193.64 113.26,192.93 113.77,192.3 114.27,191.74 114.78,191.27 115.28,190.88 115.79,190.57 116.29,190.35 116.8,190.22 117.3,190.18 117.3,231.5" fill="#7BA0F5"/>
<polygon points="135.94,231.5 135.94,207.94 136.45,207.91 136.96,207.82 137.48,207.67 137.99,207.46 138.5,207.19 139.01,206.86 139.52,206.48 140.03,206.05 140.55,205.57 141.06,205.06 141.57,204.5 142.08,203.91 142.59,203.29 143.1,202.64 143.62,201.98 144.13,201.3 144.64,200.62 145.15,199.93 145.66,199.24 146.17,198.57 146.69,197.9 147.2,197.26 147.71,196.64 148.22,196.05 148.73,195.49 149.24,194.97 149.76,194.5 150.27,194.07 150.78,193.69 151.29,193.36 151.8,193.09 152.31,192.88 152.83,192.72 153.34,192.63 153.85,192.6 153.85,231.5" fill="#7BA0F5"/>
<polygon points="177.73,231.5 177.73,226.79 178.33,226.72 178.92,226.51 179.52,226.17 180.12,225.69 180.72,225.08 180.72,231.5" fill="#7BA0F5"/>
</g>
<text class="yl" x="168.77" y="195.42" text-anchor="middle">6</text>
<text class="yl" x="168.77" y="215.61" text-anchor="middle">3</text>
<text class="yl" x="168.77" y="235.8" text-anchor="middle">0</text>
<text class="xl" x="120.62" y="249.6" text-anchor="middle">6a</text>
<text class="xl" x="140.52" y="249.6" text-anchor="middle">12</text>
<text class="xl" x="160.42" y="249.6" text-anchor="middle">6p</text>
<text class="dn" x="161.87" y="184.4">7</text>
<clipPath id="c8"><rect x="180.69" y="170.9" width="79.6" height="78.6"/></clipPath>
<g clip-path="url(#c8)">
<rect x="204.53" y="170.9" width="32.11" height="60.6" fill="#F9EA7E"/>
<path d="M200.59 170.9V247.5M220.49 170.9V247.5M240.39 170.9V247.5M180.69 211.31H260.29M180.69 191.12H260.29" stroke="#DCDCE4" stroke-width="1" fill="none" opacity="0.65"/>
<polygon points="179.69,231.5 179.69,226.6 180.2,226.36 180.7,226.02 181.2,225.59 181.7,225.07 182.2,224.45 182.7,223.76 183.2,222.98 183.7,222.12 184.2,221.19 184.7,220.18 185.2,219.12 185.7,217.99 186.2,216.81 186.7,215.58 187.2,214.31 187.7,213 188.2,211.66 188.7,210.3 189.21,208.93 189.71,207.54 190.21,206.16 190.71,204.78 191.21,203.4 191.71,202.05 192.21,200.72 192.71,199.43 193.21,198.17 193.71,196.95 194.21,195.79 194.71,194.68 195.21,193.63 195.71,192.65 196.21,191.74 196.71,190.91 197.21,190.15 197.71,189.48 198.22,188.9 198.72,188.41 199.22,188.01 199.72,187.7 200.22,187.49 200.72,187.37 201.22,187.36 201.72,187.42 202.22,187.56 202.72,187.77 203.22,188.06 203.72,188.42 204.22,188.85 204.72,189.34 205.22,189.9 205.72,190.52 206.22,191.19 206.72,191.92 207.23,192.69 207.73,193.5 208.23,194.35 208.73,195.23 209.23,196.14 209.73,197.07 210.23,198.01 210.73,198.96 211.23,199.91 211.73,200.85 212.23,201.79 212.73,202.7 213.23,203.6 213.73,204.47 214.23,205.3 214.73,206.09 215.23,206.84 215.73,207.54 216.24,208.19 216.74,208.78 217.24,209.31 217.74,209.77 218.24,210.16 218.74,210.49 219.24,210.74 219.74,210.91 220.24,211.01 220.74,211.04 221.24,211 221.74,210.9 222.24,210.74 222.74,210.52 223.24,210.24 223.74,209.91 224.24,209.52 224.74,209.09 225.25,208.61 225.75,208.08 226.25,207.52 226.75,206.92 227.25,206.3 227.75,205.64 228.25,204.97 228.75,204.28 229.25,203.59 229.75,202.89 230.25,202.18 230.75,201.49 231.25,200.8 231.75,200.14 232.25,199.49 232.75,198.87 233.25,198.28 233.75,197.73 234.26,197.21 234.76,196.74 235.26,196.32 235.76,195.94 236.26,195.62 236.76,195.36 237.26,195.15 237.76,195 238.26,194.92 238.76,194.89 239.26,194.93 239.76,195.05 240.26,195.24 240.76,195.51 241.26,195.86 241.76,196.27 242.26,196.75 242.76,197.3 243.27,197.92 243.77,198.59 244.27,199.32 244.77,200.11 245.27,200.94 245.77,201.82 246.27,202.74 246.77,203.69 247.27,204.68 247.77,205.69 248.27,206.72 248.77,207.76 249.27,208.81 249.77,209.87 250.27,210.92 250.77,211.97 251.27,213.01 251.77,214.02 252.28,215.01 252.78,215.98 253.28,216.91 253.78,217.8 254.28,218.65 254.78,219.44 255.28,220.19 255.78,220.88 256.28,221.51 256.78,222.08 257.28,222.58 257.78,223.02 258.28,223.38 258.78,223.67 259.28,223.89 259.78,224.03 260.28,224.09 260.78,224.08 261.29,223.96 261.29,231.5" fill="#7096C8"/>
<polygon points="179.69,231.5 179.69,226.6 180.2,226.35 180.71,226.01 181.22,225.56 181.73,225.03 182.24,224.4 182.75,223.69 183.25,222.89 183.76,222 184.27,221.05 184.78,220.02 185.29,218.92 185.8,217.77 186.31,216.56 186.81,215.3 187.32,214 187.83,212.66 188.34,211.3 188.85,209.91 189.36,208.51 189.87,207.1 190.37,205.69 190.88,204.29 191.39,202.9 191.9,201.54 192.41,200.2 192.92,198.9 193.43,197.64 193.93,196.43 194.44,195.27 194.95,194.17 195.46,193.14 195.97,192.18 196.48,191.29 196.99,190.49 197.49,189.77 198,189.14 198.51,188.6 199.02,188.15 199.53,187.8 200.04,187.55 200.55,187.4 201.05,187.35 201.05,231.5" fill="#7BA0F5"/>
<polygon points="220.66,231.5 220.66,211.04 221.16,211.01 221.66,210.92 222.16,210.77 222.66,210.55 223.17,210.28 223.67,209.96 224.17,209.58 224.67,209.15 225.17,208.68 225.68,208.16 226.18,207.6 226.68,207 227.18,206.38 227.69,205.73 228.19,205.06 228.69,204.37 229.19,203.67 229.69,202.96 230.2,202.26 230.7,201.56 231.2,200.87 231.7,200.2 232.2,199.55 232.71,198.93 233.21,198.33 233.71,197.77 234.21,197.25 234.71,196.78 235.22,196.35 235.72,195.97 236.22,195.65 236.72,195.38 237.23,195.16 237.73,195.01 238.23,194.92 238.73,194.89 238.73,231.5" fill="#7BA0F5"/>
<polygon points="260.46,231.5 260.46,224.1 260.66,224.09 260.87,224.06 261.08,224.02 261.29,223.96 261.29,231.5" fill="#7BA0F5"/>
</g>
<text class="yl" x="249.34" y="195.42" text-anchor="middle">6</text>
<text class="yl" x="249.34" y="215.61" text-anchor="middle">3</text>
<text class="yl" x="249.34" y="235.8" text-anchor="middle">0</text>
<text class="xl" x="201.19" y="249.6" text-anchor="middle">6a</text>
<text class="xl" x="221.09" y="249.6" text-anchor="middle">12</text>
<text class="xl" x="240.99" y="249.6" text-anchor="middle">6p</text>
<text class="dn" x="242.44" y="184.4">8</text>
<clipPath id="c9"><rect x="261.26" y="170.9" width="79.6" height="78.6"/></clipPath>
<g clip-path="url(#c9)">
<rect x="285.12" y="170.9" width="32.09" height="60.6" fill="#F9EA7E"/>
<path d="M281.16 170.9V247.5M301.06 170.9V247.5M320.96 170.9V247.5M261.26 211.31H340.86M261.26 191.12H340.86" stroke="#DCDCE4" stroke-width="1" fill="none" opacity="0.65"/>
<polygon points="260.26,231.5 260.26,223.89 260.77,224.03 261.27,224.09 261.77,224.07 262.27,223.96 262.77,223.74 263.27,223.43 263.77,223.01 264.27,222.51 264.77,221.91 265.27,221.23 265.77,220.46 266.27,219.61 266.77,218.68 267.27,217.68 267.77,216.61 268.27,215.48 268.77,214.3 269.27,213.06 269.78,211.78 270.28,210.47 270.78,209.12 271.28,207.75 271.78,206.37 272.28,204.97 272.78,203.57 273.28,202.18 273.78,200.8 274.28,199.43 274.78,198.09 275.28,196.79 275.78,195.52 276.28,194.3 276.78,193.13 277.28,192.02 277.78,190.97 278.28,189.99 278.79,189.09 279.29,188.26 279.79,187.52 280.29,186.86 280.79,186.29 281.29,185.81 281.79,185.43 282.29,185.14 282.79,184.96 283.29,184.87 283.79,184.88 284.29,184.97 284.79,185.15 285.29,185.42 285.79,185.77 286.29,186.19 286.79,186.7 287.29,187.29 287.8,187.94 288.3,188.67 288.8,189.46 289.3,190.31 289.8,191.22 290.3,192.18 290.8,193.19 291.3,194.25 291.8,195.33 292.3,196.45 292.8,197.6 293.3,198.76 293.8,199.94 294.3,201.12 294.8,202.3 295.3,203.48 295.8,204.64 296.3,205.79 296.81,206.91 297.31,208.01 297.81,209.07 298.31,210.08 298.81,211.05 299.31,211.97 299.81,212.84 300.31,213.64 300.81,214.37 301.31,215.04 301.81,215.64 302.31,216.16 302.81,216.6 303.31,216.96 303.81,217.24 304.31,217.43 304.81,217.54 305.31,217.57 305.82,217.51 306.32,217.37 306.82,217.15 307.32,216.85 307.82,216.48 308.32,216.03 308.82,215.52 309.32,214.94 309.82,214.29 310.32,213.59 310.82,212.83 311.32,212.03 311.82,211.19 312.32,210.31 312.82,209.41 313.32,208.48 313.82,207.54 314.32,206.59 314.83,205.64 315.33,204.7 315.83,203.76 316.33,202.85 316.83,201.96 317.33,201.11 317.83,200.29 318.33,199.52 318.83,198.8 319.33,198.14 319.83,197.53 320.33,196.99 320.83,196.52 321.33,196.13 321.83,195.8 322.33,195.56 322.83,195.39 323.33,195.31 323.84,195.3 324.34,195.38 324.84,195.53 325.34,195.76 325.84,196.07 326.34,196.45 326.84,196.91 327.34,197.43 327.84,198.02 328.34,198.67 328.84,199.38 329.34,200.15 329.84,200.96 330.34,201.82 330.84,202.72 331.34,203.65 331.84,204.6 332.34,205.58 332.85,206.57 333.35,207.58 333.85,208.58 334.35,209.58 334.85,210.57 335.35,211.55 335.85,212.5 336.35,213.43 336.85,214.32 337.35,215.17 337.85,215.98 338.35,216.74 338.85,217.44 339.35,218.08 339.85,218.67 340.35,219.18 340.85,219.63 341.35,220 341.86,220.3 341.86,231.5" fill="#7096C8"/>
<polygon points="261.43,231.5 261.43,224.1 261.93,224.05 262.43,223.9 262.93,223.65 263.43,223.3 263.93,222.86 264.43,222.32 264.93,221.7 265.44,220.98 265.94,220.18 266.44,219.31 266.94,218.35 267.44,217.33 267.94,216.24 268.44,215.09 268.94,213.88 269.45,212.63 269.95,211.33 270.45,210.01 270.95,208.65 271.45,207.27 271.95,205.88 272.45,204.48 272.96,203.08 273.46,201.69 273.96,200.31 274.46,198.95 274.96,197.62 275.46,196.33 275.96,195.08 276.46,193.87 276.97,192.72 277.47,191.63 277.97,190.61 278.47,189.65 278.97,188.77 279.47,187.98 279.97,187.26 280.47,186.63 280.98,186.1 281.48,185.66 281.98,185.31 282.48,185.06 282.98,184.91 283.48,184.86 283.48,231.5" fill="#7BA0F5"/>
<polygon points="305.21,231.5 305.21,217.57 305.72,217.53 306.23,217.4 306.74,217.19 307.25,216.9 307.76,216.53 308.27,216.08 308.79,215.55 309.3,214.96 309.81,214.31 310.32,213.59 310.83,212.82 311.34,212 311.85,211.14 312.36,210.24 312.88,209.31 313.39,208.36 313.9,207.4 314.41,206.43 314.92,205.46 315.43,204.5 315.94,203.55 316.45,202.62 316.97,201.72 317.48,200.86 317.99,200.04 318.5,199.27 319.01,198.55 319.52,197.9 320.03,197.31 320.55,196.78 321.06,196.34 321.57,195.96 322.08,195.67 322.59,195.46 323.1,195.33 323.61,195.29 323.61,231.5" fill="#7BA0F5"/>
</g>
<text class="yl" x="329.91" y="195.42" text-anchor="middle">6</text>
<text class="yl" x="329.91" y="215.61" text-anchor="middle">3</text>
<text class="yl" x="329.91" y="235.8" text-anchor="middle">0</text>
<text class="xl" x="281.76" y="249.6" text-anchor="middle">6a</text>
<text class="xl" x="301.66" y="249.6" text-anchor="middle">12</text>
<text class="xl" x="321.56" y="249.6" text-anchor="middle">6p</text>
<text class="dn" x="323.01" y="184.4">9</text>
<clipPath id="c10"><rect x="341.83" y="170.9" width="79.6" height="78.6"/></clipPath>
<g clip-path="url(#c10)">
<rect x="365.72" y="170.9" width="32.06" height="60.6" fill="#F9EA7E"/>
<path d="M361.73 170.9V247.5M381.63 170.9V247.5M401.53 170.9V247.5M341.83 211.31H421.43M341.83 191.12H421.43" stroke="#DCDCE4" stroke-width="1" fill="none" opacity="0.65"/>
<polygon points="340.83,231.5 340.83,218.68 341.34,219.19 341.84,219.64 342.34,220.01 342.84,220.3 343.34,220.52 343.84,220.67 344.34,220.73 344.84,220.71 345.34,220.6 345.84,220.4 346.34,220.12 346.84,219.75 347.34,219.29 347.84,218.76 348.34,218.14 348.84,217.44 349.34,216.67 349.84,215.83 350.35,214.93 350.85,213.96 351.35,212.93 351.85,211.85 352.35,210.72 352.85,209.55 353.35,208.34 353.85,207.09 354.35,205.82 354.85,204.53 355.35,203.23 355.85,201.91 356.35,200.6 356.85,199.28 357.35,197.98 357.85,196.69 358.35,195.42 358.85,194.18 359.36,192.97 359.86,191.8 360.36,190.67 360.86,189.59 361.36,188.57 361.86,187.6 362.36,186.7 362.86,185.86 363.36,185.09 363.86,184.4 364.36,183.78 364.86,183.25 365.36,182.8 365.86,182.43 366.36,182.15 366.86,181.96 367.36,181.85 367.86,181.84 368.37,181.93 368.87,182.13 369.37,182.44 369.87,182.85 370.37,183.37 370.87,183.98 371.37,184.7 371.87,185.51 372.37,186.41 372.87,187.4 373.37,188.46 373.87,189.6 374.37,190.81 374.87,192.08 375.37,193.41 375.87,194.79 376.37,196.2 376.87,197.66 377.38,199.13 377.88,200.63 378.38,202.14 378.88,203.65 379.38,205.15 379.88,206.64 380.38,208.11 380.88,209.56 381.38,210.96 381.88,212.33 382.38,213.64 382.88,214.9 383.38,216.09 383.88,217.21 384.38,218.26 384.88,219.22 385.38,220.1 385.88,220.88 386.39,221.58 386.89,222.17 387.39,222.66 387.89,223.05 388.39,223.32 388.89,223.5 389.39,223.56 389.89,223.52 390.39,223.4 390.89,223.2 391.39,222.91 391.89,222.55 392.39,222.11 392.89,221.59 393.39,221 393.89,220.33 394.39,219.61 394.89,218.82 395.4,217.98 395.9,217.08 396.4,216.14 396.9,215.15 397.4,214.13 397.9,213.08 398.4,212.01 398.9,210.92 399.4,209.82 399.9,208.71 400.4,207.6 400.9,206.5 401.4,205.42 401.9,204.36 402.4,203.32 402.9,202.31 403.4,201.35 403.9,200.42 404.41,199.55 404.91,198.73 405.41,197.97 405.91,197.27 406.41,196.64 406.91,196.08 407.41,195.6 407.91,195.19 408.41,194.86 408.91,194.61 409.41,194.44 409.91,194.36 410.41,194.36 410.91,194.46 411.41,194.64 411.91,194.92 412.41,195.29 412.91,195.74 413.42,196.27 413.92,196.88 414.42,197.56 414.92,198.31 415.42,199.12 415.92,199.99 416.42,200.9 416.92,201.85 417.42,202.84 417.92,203.85 418.42,204.88 418.92,205.92 419.42,206.95 419.92,207.98 420.42,209 420.92,209.98 421.42,210.94 421.92,211.86 422.43,212.73 422.43,231.5" fill="#7096C8"/>
<polygon points="344.48,231.5 344.48,220.73 344.99,220.69 345.49,220.55 346,220.33 346.5,220.01 347.01,219.61 347.51,219.12 348.02,218.55 348.52,217.9 349.03,217.17 349.53,216.37 350.04,215.5 350.54,214.56 351.04,213.56 351.55,212.5 352.05,211.39 352.56,210.23 353.06,209.03 353.57,207.8 354.07,206.53 354.58,205.24 355.08,203.93 355.59,202.61 356.09,201.28 356.6,199.96 357.1,198.63 357.61,197.33 358.11,196.03 358.62,194.77 359.12,193.53 359.62,192.33 360.13,191.18 360.63,190.07 361.14,189.01 361.64,188.01 362.15,187.07 362.65,186.19 363.16,185.39 363.66,184.66 364.17,184.01 364.67,183.44 365.18,182.96 365.68,182.55 366.19,182.24 366.69,182.01 367.2,181.88 367.7,181.83 367.7,231.5" fill="#7BA0F5"/>
<polygon points="389.42,231.5 389.42,223.56 389.93,223.52 390.44,223.39 390.94,223.17 391.45,222.88 391.95,222.5 392.46,222.04 392.96,221.51 393.47,220.9 393.97,220.22 394.48,219.48 394.99,218.67 395.49,217.81 396,216.89 396.5,215.93 397.01,214.93 397.51,213.89 398.02,212.82 398.52,211.73 399.03,210.63 399.54,209.51 400.04,208.4 400.55,207.28 401.05,206.17 401.56,205.08 402.06,204.02 402.57,202.98 403.08,201.98 403.58,201.02 404.09,200.1 404.59,199.24 405.1,198.43 405.6,197.69 406.11,197.01 406.61,196.4 407.12,195.87 407.63,195.41 408.13,195.03 408.64,194.73 409.14,194.52 409.65,194.39 410.15,194.35 410.15,231.5" fill="#7BA0F5"/>
</g>
<text class="yl" x="410.48" y="195.42" text-anchor="middle">6</text>
<text class="yl" x="410.48" y="215.61" text-anchor="middle">3</text>
<text class="yl" x="410.48" y="235.8" text-anchor="middle">0</text>
<text class="xl" x="362.33" y="249.6" text-anchor="middle">6a</text>
<text class="xl" x="382.23" y="249.6" text-anchor="middle">12</text>
<text class="xl" x="402.13" y="249.6" text-anchor="middle">6p</text>
<text class="dn" x="403.58" y="184.4">10</text>
<clipPath id="c11"><rect x="422.4" y="170.9" width="79.6" height="78.6"/></clipPath>
<g clip-path="url(#c11)">
<rect x="446.32" y="170.9" width="32.03" height="60.6" fill="#F9EA7E"/>
<path d="M442.3 170.9V247.5M462.2 170.9V247.5M482.1 170.9V247.5M422.4 211.31H502M422.4 191.12H502" stroke="#DCDCE4" stroke-width="1" fill="none" opacity="0.65"/>
<polygon points="421.4,231.5 421.4,209.02 421.91,210.01 422.41,210.96 422.91,211.88 423.41,212.75 423.91,213.56 424.41,214.32 424.91,215 425.41,215.62 425.91,216.15 426.41,216.61 426.91,216.98 427.41,217.26 427.91,217.45 428.41,217.55 428.91,217.56 429.41,217.46 429.91,217.25 430.41,216.94 430.92,216.52 431.42,216 431.92,215.38 432.42,214.67 432.92,213.86 433.42,212.96 433.92,211.99 434.42,210.93 434.92,209.8 435.42,208.61 435.92,207.36 436.42,206.06 436.92,204.71 437.42,203.33 437.92,201.91 438.42,200.47 438.92,199.02 439.42,197.56 439.93,196.11 440.43,194.66 440.93,193.23 441.43,191.83 441.93,190.46 442.43,189.13 442.93,187.85 443.43,186.62 443.93,185.46 444.43,184.36 444.93,183.34 445.43,182.4 445.93,181.54 446.43,180.77 446.93,180.1 447.43,179.52 447.93,179.05 448.43,178.68 448.94,178.41 449.44,178.25 449.94,178.2 450.44,178.26 450.94,178.45 451.44,178.76 451.94,179.19 452.44,179.74 452.94,180.41 453.44,181.19 453.94,182.09 454.44,183.08 454.94,184.18 455.44,185.38 455.94,186.66 456.44,188.03 456.94,189.47 457.44,190.99 457.95,192.57 458.45,194.21 458.95,195.89 459.45,197.62 459.95,199.38 460.45,201.16 460.95,202.96 461.45,204.76 461.95,206.57 462.45,208.36 462.95,210.13 463.45,211.88 463.95,213.6 464.45,215.27 464.95,216.89 465.45,218.45 465.95,219.94 466.45,221.37 466.96,222.71 467.46,223.97 467.96,225.13 468.46,226.2 468.96,227.16 469.46,228.02 469.96,228.77 470.46,229.4 470.96,229.91 471.46,230.31 471.96,230.58 472.46,230.73 472.96,230.76 473.46,230.68 473.96,230.51 474.46,230.24 474.96,229.87 475.46,229.42 475.97,228.87 476.47,228.24 476.97,227.53 477.47,226.73 477.97,225.86 478.47,224.91 478.97,223.9 479.47,222.82 479.97,221.69 480.47,220.51 480.97,219.28 481.47,218.01 481.97,216.71 482.47,215.38 482.97,214.03 483.47,212.67 483.97,211.31 484.47,209.94 484.98,208.59 485.48,207.24 485.98,205.92 486.48,204.62 486.98,203.36 487.48,202.14 487.98,200.97 488.48,199.85 488.98,198.79 489.48,197.79 489.98,196.85 490.48,196 490.98,195.21 491.48,194.52 491.98,193.9 492.48,193.37 492.98,192.94 493.48,192.59 493.99,192.34 494.49,192.19 494.99,192.13 495.49,192.17 495.99,192.31 496.49,192.56 496.99,192.9 497.49,193.33 497.99,193.86 498.49,194.47 498.99,195.17 499.49,195.94 499.99,196.77 500.49,197.67 500.99,198.62 501.49,199.61 501.99,200.64 502.49,201.69 503,202.76 503,231.5" fill="#7096C8"/>
<polygon points="428.7,231.5 428.7,217.57 429.21,217.51 429.71,217.35 430.22,217.08 430.72,216.69 431.23,216.21 431.73,215.62 432.24,214.93 432.74,214.15 433.25,213.27 433.76,212.31 434.26,211.27 434.77,210.16 435.27,208.97 435.78,207.73 436.28,206.42 436.79,205.08 437.29,203.69 437.8,202.26 438.3,200.82 438.81,199.35 439.32,197.88 439.82,196.41 440.33,194.95 440.83,193.5 441.34,192.08 441.84,190.69 442.35,189.34 442.85,188.04 443.36,186.79 443.86,185.61 444.37,184.49 444.87,183.45 445.38,182.49 445.89,181.62 446.39,180.84 446.9,180.15 447.4,179.56 447.91,179.07 448.41,178.69 448.92,178.42 449.42,178.25 449.93,178.2 449.93,231.5" fill="#7BA0F5"/>
<polygon points="472.81,231.5 472.81,230.76 473.32,230.71 473.82,230.56 474.33,230.32 474.83,229.98 475.34,229.54 475.84,229.01 476.35,228.4 476.85,227.69 477.36,226.91 477.86,226.04 478.37,225.1 478.87,224.09 479.38,223.02 479.88,221.89 480.39,220.7 480.89,219.47 481.4,218.19 481.9,216.89 482.41,215.55 482.91,214.19 483.42,212.82 483.92,211.44 484.43,210.07 484.93,208.7 485.44,207.34 485.94,206 486.45,204.69 486.95,203.42 487.46,202.19 487.96,201 488.47,199.87 488.97,198.8 489.48,197.79 489.98,196.85 490.49,195.98 490.99,195.2 491.5,194.49 492,193.87 492.51,193.35 493.01,192.91 493.52,192.57 494.02,192.33 494.53,192.18 495.03,192.13 495.03,231.5" fill="#7BA0F5"/>
</g>
<text class="yl" x="491.05" y="195.42" text-anchor="middle">6</text>
<text class="yl" x="491.05" y="215.61" text-anchor="middle">3</text>
<text class="yl" x="491.05" y="235.8" text-anchor="middle">0</text>
<text class="xl" x="442.9" y="249.6" text-anchor="middle">6a</text>
<text class="xl" x="462.8" y="249.6" text-anchor="middle">12</text>
<text class="xl" x="482.7" y="249.6" text-anchor="middle">6p</text>
<text class="dn" x="484.15" y="184.4">11</text>
<clipPath id="c12"><rect x="502.97" y="170.9" width="79.6" height="78.6"/></clipPath>
<g clip-path="url(#c12)">
<rect x="526.91" y="170.9" width="32.01" height="60.6" fill="#F9EA7E"/>
<path d="M522.87 170.9V247.5M542.77 170.9V247.5M562.67 170.9V247.5M502.97 211.31H582.57M502.97 191.12H582.57" stroke="#DCDCE4" stroke-width="1" fill="none" opacity="0.65"/>
<polygon points="501.97,231.5 501.97,198.64 502.48,199.63 502.98,200.66 503.48,201.72 503.98,202.78 504.48,203.86 504.98,204.93 505.48,205.99 505.98,207.02 506.48,208.03 506.98,208.99 507.48,209.9 507.98,210.76 508.48,211.55 508.98,212.27 509.48,212.9 509.98,213.46 510.48,213.92 510.98,214.29 511.49,214.56 511.99,214.74 512.49,214.81 512.99,214.77 513.49,214.62 513.99,214.36 514.49,213.98 514.99,213.48 515.49,212.88 515.99,212.18 516.49,211.37 516.99,210.47 517.49,209.48 517.99,208.4 518.49,207.24 518.99,206.01 519.49,204.71 519.99,203.36 520.5,201.96 521,200.51 521.5,199.04 522,197.54 522.5,196.02 523,194.5 523.5,192.98 524,191.47 524.5,189.98 525,188.52 525.5,187.1 526,185.72 526.5,184.39 527,183.13 527.5,181.94 528,180.82 528.5,179.78 529,178.83 529.51,177.98 530.01,177.22 530.51,176.57 531.01,176.03 531.51,175.59 532.01,175.27 532.51,175.06 533.01,174.97 533.51,175 534.01,175.17 534.51,175.47 535.01,175.91 535.51,176.48 536.01,177.18 536.51,178.01 537.01,178.97 537.51,180.04 538.01,181.22 538.52,182.52 539.02,183.92 539.52,185.42 540.02,187 540.52,188.68 541.02,190.42 541.52,192.24 542.02,194.12 542.52,196.04 543.02,198.01 543.52,200.02 544.02,202.05 544.52,204.1 545.02,206.15 545.52,208.21 546.02,210.25 546.52,212.27 547.02,214.27 547.53,216.22 548.03,218.13 548.53,219.99 549.03,221.78 549.53,223.49 550.03,225.13 550.53,226.69 551.03,228.15 551.53,229.51 552.03,230.76 552.53,231.91 553.03,232.93 553.53,233.84 554.03,234.62 554.53,235.27 555.03,235.79 555.53,236.18 556.03,236.43 556.54,236.54 557.04,236.52 557.54,236.36 558.04,236.08 558.54,235.67 559.04,235.13 559.54,234.47 560.04,233.69 560.54,232.79 561.04,231.78 561.54,230.67 562.04,229.46 562.54,228.16 563.04,226.78 563.54,225.32 564.04,223.79 564.54,222.21 565.04,220.57 565.55,218.89 566.05,217.19 566.55,215.46 567.05,213.71 567.55,211.97 568.05,210.23 568.55,208.52 569.05,206.82 569.55,205.17 570.05,203.56 570.55,202.01 571.05,200.52 571.55,199.11 572.05,197.77 572.55,196.53 573.05,195.38 573.55,194.33 574.05,193.39 574.56,192.56 575.06,191.85 575.56,191.26 576.06,190.8 576.56,190.46 577.06,190.25 577.56,190.18 578.06,190.22 578.56,190.36 579.06,190.6 579.56,190.94 580.06,191.36 580.56,191.88 581.06,192.48 581.56,193.16 582.06,193.92 582.56,194.75 583.06,195.63 583.57,196.57 583.57,231.5" fill="#7096C8"/>
<polygon points="512.59,231.5 512.59,214.81 513.09,214.75 513.59,214.58 514.09,214.29 514.59,213.88 515.1,213.37 515.6,212.74 516.1,212.01 516.6,211.18 517.1,210.26 517.6,209.24 518.11,208.14 518.61,206.97 519.11,205.72 519.61,204.41 520.11,203.04 520.61,201.62 521.11,200.17 521.62,198.68 522.12,197.17 522.62,195.65 523.12,194.13 523.62,192.6 524.12,191.1 524.63,189.61 525.13,188.16 525.63,186.74 526.13,185.37 526.63,184.06 527.13,182.81 527.63,181.63 528.14,180.54 528.64,179.52 529.14,178.59 529.64,177.77 530.14,177.04 530.64,176.41 531.15,175.9 531.65,175.49 532.15,175.2 532.65,175.03 533.15,174.97 533.15,231.5" fill="#7BA0F5"/>
<polygon points="556.7,231.5 556.7,236.55 557.21,236.48 557.72,236.28 558.23,235.94 558.74,235.47 559.25,234.87 559.76,234.14 560.27,233.29 560.78,232.33 561.29,231.25 561.8,230.07 562.31,228.79 562.82,227.42 563.33,225.97 563.83,224.44 564.34,222.85 564.85,221.2 565.36,219.51 565.87,217.78 566.38,216.02 566.89,214.25 567.4,212.47 567.91,210.7 568.42,208.95 568.93,207.22 569.44,205.53 569.95,203.88 570.46,202.29 570.97,200.76 571.48,199.31 571.99,197.94 572.5,196.66 573.01,195.48 573.52,194.4 574.03,193.43 574.54,192.59 575.05,191.86 575.56,191.26 576.07,190.79 576.58,190.45 577.09,190.25 577.6,190.18 577.6,231.5" fill="#7BA0F5"/>
</g>
<text class="yl" x="571.62" y="195.42" text-anchor="middle">6</text>
<text class="yl" x="571.62" y="215.61" text-anchor="middle">3</text>
<text class="yl" x="571.62" y="235.8" text-anchor="middle">0</text>
<text class="xl" x="523.47" y="249.6" text-anchor="middle">6a</text>
<text class="xl" x="543.37" y="249.6" text-anchor="middle">12</text>
<text class="xl" x="563.27" y="249.6" text-anchor="middle">6p</text>
<text class="dn" x="564.72" y="184.4">12</text>
<clipPath id="c13"><rect x="19.55" y="254.4" width="79.6" height="78.3"/></clipPath>
<g clip-path="url(#c13)">
<rect x="43.52" y="254.4" width="31.98" height="60.3" fill="#F9EA7E"/>
<path d="M39.45 254.4V330.7M59.35 254.4V330.7M79.25 254.4V330.7M19.55 294.51H99.15M19.55 274.32H99.15" stroke="#DCDCE4" stroke-width="1" fill="none" opacity="0.65"/>
<polygon points="18.55,314.7 18.55,276.38 19.06,277.14 19.56,277.97 20.06,278.85 20.56,279.8 21.06,280.78 21.56,281.81 22.06,282.86 22.56,283.94 23.06,285.02 23.56,286.11 24.06,287.19 24.56,288.26 25.06,289.3 25.56,290.31 26.06,291.28 26.56,292.2 27.06,293.06 27.56,293.85 28.07,294.58 28.57,295.23 29.07,295.8 29.57,296.28 30.07,296.66 30.57,296.96 31.07,297.16 31.57,297.26 32.07,297.25 32.57,297.13 33.07,296.88 33.57,296.52 34.07,296.03 34.57,295.43 35.07,294.71 35.57,293.89 36.07,292.96 36.57,291.94 37.08,290.82 37.58,289.63 38.08,288.35 38.58,287 39.08,285.6 39.58,284.14 40.08,282.64 40.58,281.1 41.08,279.54 41.58,277.96 42.08,276.38 42.58,274.8 43.08,273.24 43.58,271.7 44.08,270.19 44.58,268.73 45.08,267.31 45.58,265.95 46.09,264.67 46.59,263.45 47.09,262.33 47.59,261.29 48.09,260.34 48.59,259.5 49.09,258.77 49.59,258.15 50.09,257.64 50.59,257.26 51.09,256.99 51.59,256.85 52.09,256.83 52.59,256.97 53.09,257.26 53.59,257.72 54.09,258.33 54.59,259.1 55.1,260.02 55.6,261.09 56.1,262.29 56.6,263.63 57.1,265.11 57.6,266.7 58.1,268.4 58.6,270.22 59.1,272.13 59.6,274.12 60.1,276.2 60.6,278.35 61.1,280.55 61.6,282.8 62.1,285.09 62.6,287.4 63.1,289.73 63.6,292.06 64.11,294.38 64.61,296.69 65.11,298.97 65.61,301.2 66.11,303.38 66.61,305.51 67.11,307.55 67.61,309.52 68.11,311.4 68.61,313.17 69.11,314.84 69.61,316.39 70.11,317.81 70.61,319.1 71.11,320.26 71.61,321.27 72.11,322.14 72.61,322.85 73.12,323.41 73.62,323.81 74.12,324.04 74.62,324.12 75.12,324.05 75.62,323.86 76.12,323.53 76.62,323.08 77.12,322.5 77.62,321.81 78.12,320.99 78.62,320.06 79.12,319.02 79.62,317.88 80.12,316.63 80.62,315.3 81.12,313.88 81.62,312.38 82.13,310.81 82.63,309.18 83.13,307.49 83.63,305.76 84.13,303.99 84.63,302.19 85.13,300.37 85.63,298.54 86.13,296.7 86.63,294.88 87.13,293.07 87.63,291.29 88.13,289.54 88.63,287.83 89.13,286.18 89.63,284.59 90.13,283.06 90.63,281.62 91.14,280.25 91.64,278.98 92.14,277.8 92.64,276.72 93.14,275.75 93.64,274.89 94.14,274.15 94.64,273.53 95.14,273.04 95.64,272.67 96.14,272.42 96.64,272.31 97.14,272.32 97.64,272.43 98.14,272.63 98.64,272.92 99.14,273.3 99.64,273.76 100.15,274.31 100.15,314.7" fill="#7096C8"/>
<polygon points="31.82,314.7 31.82,297.27 32.32,297.21 32.83,297.02 33.33,296.71 33.83,296.28 34.33,295.73 34.84,295.07 35.34,294.29 35.84,293.41 36.34,292.42 36.85,291.35 37.35,290.18 37.85,288.93 38.35,287.61 38.86,286.23 39.36,284.78 39.86,283.3 40.36,281.77 40.87,280.21 41.37,278.63 41.87,277.05 42.37,275.46 42.88,273.88 43.38,272.32 43.88,270.8 44.38,269.31 44.89,267.86 45.39,266.48 45.89,265.16 46.39,263.91 46.9,262.75 47.4,261.67 47.9,260.68 48.4,259.8 48.91,259.03 49.41,258.36 49.91,257.81 50.41,257.38 50.92,257.07 51.42,256.88 51.92,256.82 51.92,314.7" fill="#7BA0F5"/>
<polygon points="74.61,314.7 74.61,324.12 75.11,324.06 75.62,323.86 76.12,323.53 76.63,323.07 77.13,322.49 77.64,321.78 78.14,320.95 78.65,320.01 79.15,318.95 79.66,317.79 80.16,316.53 80.67,315.18 81.17,313.74 81.68,312.22 82.18,310.63 82.69,308.98 83.19,307.27 83.7,305.51 84.2,303.72 84.71,301.9 85.21,300.06 85.72,298.21 86.22,296.36 86.73,294.52 87.23,292.7 87.74,290.91 88.24,289.16 88.75,287.45 89.25,285.79 89.76,284.2 90.26,282.68 90.77,281.24 91.27,279.89 91.78,278.63 92.28,277.47 92.79,276.41 93.29,275.47 93.8,274.64 94.3,273.93 94.81,273.35 95.31,272.89 95.82,272.56 96.32,272.37 96.83,272.3 96.83,314.7" fill="#7BA0F5"/>
</g>
<text class="yl" x="88.2" y="278.62" text-anchor="middle">6</text>
<text class="yl" x="88.2" y="298.81" text-anchor="middle">3</text>
<text class="yl" x="88.2" y="319" text-anchor="middle">0</text>
<text class="xl" x="40.05" y="332.8" text-anchor="middle">6a</text>
<text class="xl" x="59.95" y="332.8" text-anchor="middle">12</text>
<text class="xl" x="79.85" y="332.8" text-anchor="middle">6p</text>
<text class="dn" x="81.3" y="267.6">13</text>
<clipPath id="c14"><rect x="100.12" y="254.4" width="79.6" height="78.3"/></clipPath>
<g clip-path="url(#c14)">
<rect x="124.12" y="254.4" width="31.95" height="60.3" fill="#F9EA7E"/>
<path d="M120.02 254.4V330.7M139.92 254.4V330.7M159.82 254.4V330.7M100.12 294.51H179.72M100.12 274.32H179.72" stroke="#DCDCE4" stroke-width="1" fill="none" opacity="0.65"/>
<polygon points="99.12,314.7 99.12,272.63 99.63,272.92 100.13,273.31 100.63,273.78 101.13,274.33 101.63,274.96 102.13,275.66 102.63,276.42 103.13,277.25 103.63,278.13 104.13,279.05 104.63,280.02 105.13,281.01 105.63,282.02 106.13,283.05 106.63,284.08 107.13,285.1 107.63,286.12 108.13,287.11 108.64,288.07 109.14,288.99 109.64,289.87 110.14,290.69 110.64,291.46 111.14,292.15 111.64,292.78 112.14,293.33 112.64,293.79 113.14,294.17 113.64,294.46 114.14,294.66 114.64,294.76 115.14,294.77 115.64,294.66 116.14,294.41 116.64,294.05 117.14,293.56 117.65,292.95 118.15,292.23 118.65,291.39 119.15,290.45 119.65,289.41 120.15,288.28 120.65,287.06 121.15,285.77 121.65,284.41 122.15,282.99 122.65,281.52 123.15,280.01 123.65,278.47 124.15,276.91 124.65,275.34 125.15,273.77 125.65,272.21 126.15,270.68 126.66,269.17 127.16,267.71 127.66,266.3 128.16,264.95 128.66,263.67 129.16,262.46 129.66,261.35 130.16,260.32 130.66,259.4 131.16,258.58 131.66,257.87 132.16,257.28 132.66,256.81 133.16,256.47 133.66,256.25 134.16,256.15 134.66,256.2 135.16,256.4 135.67,256.76 136.17,257.27 136.67,257.95 137.17,258.77 137.67,259.74 138.17,260.86 138.67,262.11 139.17,263.49 139.67,265 140.17,266.63 140.67,268.37 141.17,270.22 141.67,272.16 142.17,274.19 142.67,276.29 143.17,278.46 143.67,280.69 144.17,282.97 144.68,285.28 145.18,287.62 145.68,289.97 146.18,292.33 146.68,294.68 147.18,297.02 147.68,299.32 148.18,301.59 148.68,303.81 149.18,305.98 149.68,308.07 150.18,310.08 150.68,312.01 151.18,313.84 151.68,315.57 152.18,317.18 152.68,318.67 153.18,320.04 153.69,321.27 154.19,322.36 154.69,323.31 155.19,324.11 155.69,324.76 156.19,325.26 156.69,325.6 157.19,325.77 157.69,325.8 158.19,325.68 158.69,325.44 159.19,325.07 159.69,324.57 160.19,323.95 160.69,323.21 161.19,322.35 161.69,321.38 162.19,320.3 162.7,319.12 163.2,317.84 163.7,316.46 164.2,315 164.7,313.47 165.2,311.86 165.7,310.19 166.2,308.46 166.7,306.69 167.2,304.87 167.7,303.03 168.2,301.16 168.7,299.28 169.2,297.4 169.7,295.52 170.2,293.65 170.7,291.81 171.2,289.99 171.71,288.22 172.21,286.5 172.71,284.83 173.21,283.22 173.71,281.69 174.21,280.23 174.71,278.86 175.21,277.59 175.71,276.41 176.21,275.33 176.71,274.37 177.21,273.51 177.71,272.78 178.21,272.16 178.71,271.67 179.21,271.31 179.71,271.07 180.21,270.96 180.72,270.97 180.72,314.7" fill="#7096C8"/>
<polygon points="114.95,314.7 114.95,294.78 115.45,294.71 115.96,294.52 116.47,294.19 116.98,293.73 117.49,293.15 118,292.45 118.51,291.63 119.02,290.71 119.53,289.67 120.03,288.55 120.54,287.33 121.05,286.03 121.56,284.66 122.07,283.22 122.58,281.74 123.09,280.21 123.6,278.64 124.1,277.06 124.61,275.46 125.12,273.87 125.63,272.28 126.14,270.72 126.65,269.19 127.16,267.71 127.67,266.27 128.18,264.9 128.68,263.6 129.19,262.38 129.7,261.25 130.21,260.22 130.72,259.29 131.23,258.48 131.74,257.78 132.25,257.2 132.76,256.74 133.26,256.41 133.77,256.21 134.28,256.15 134.28,314.7" fill="#7BA0F5"/>
<polygon points="157.5,314.7 157.5,325.8 158.01,325.74 158.52,325.54 159.02,325.21 159.53,324.74 160.04,324.15 160.55,323.43 161.06,322.59 161.57,321.64 162.08,320.57 162.58,319.39 163.09,318.11 163.6,316.73 164.11,315.26 164.62,313.72 165.13,312.09 165.64,310.4 166.14,308.65 166.65,306.85 167.16,305.01 167.67,303.14 168.18,301.25 168.69,299.34 169.2,297.42 169.7,295.51 170.21,293.62 170.72,291.75 171.23,289.91 171.74,288.11 172.25,286.36 172.75,284.67 173.26,283.04 173.77,281.5 174.28,280.03 174.79,278.65 175.3,277.37 175.81,276.19 176.31,275.12 176.82,274.17 177.33,273.33 177.84,272.61 178.35,272.02 178.86,271.55 179.37,271.22 179.87,271.02 180.38,270.95 180.38,314.7" fill="#7BA0F5"/>
</g>
<text class="yl" x="168.77" y="278.62" text-anchor="middle">6</text>
<text class="yl" x="168.77" y="298.81" text-anchor="middle">3</text>
<text class="yl" x="168.77" y="319" text-anchor="middle">0</text>
<text class="xl" x="120.62" y="332.8" text-anchor="middle">6a</text>
<text class="xl" x="140.52" y="332.8" text-anchor="middle">12</text>
<text class="xl" x="160.42" y="332.8" text-anchor="middle">6p</text>
<text class="dn" x="161.87" y="267.6">14</text>
<clipPath id="c15"><rect x="180.69" y="254.4" width="79.6" height="78.3"/></clipPath>
<g clip-path="url(#c15)">
<rect x="204.71" y="254.4" width="31.93" height="60.3" fill="#F9EA7E"/>
<path d="M200.59 254.4V330.7M220.49 254.4V330.7M240.39 254.4V330.7M180.69 294.51H260.29M180.69 274.32H260.29" stroke="#DCDCE4" stroke-width="1" fill="none" opacity="0.65"/>
<polygon points="179.69,314.7 179.69,271.66 180.2,271.3 180.7,271.07 181.2,270.96 181.7,270.98 182.2,271.08 182.7,271.27 183.2,271.55 183.7,271.91 184.2,272.35 184.7,272.87 185.2,273.46 185.7,274.12 186.2,274.85 186.7,275.63 187.2,276.47 187.7,277.35 188.2,278.27 188.7,279.22 189.21,280.2 189.71,281.19 190.21,282.19 190.71,283.2 191.21,284.19 191.71,285.18 192.21,286.14 192.71,287.07 193.21,287.97 193.71,288.83 194.21,289.63 194.71,290.38 195.21,291.07 195.71,291.69 196.21,292.24 196.71,292.71 197.21,293.11 197.71,293.42 198.22,293.64 198.72,293.78 199.22,293.84 199.72,293.78 200.22,293.6 200.72,293.3 201.22,292.87 201.72,292.32 202.22,291.65 202.72,290.87 203.22,289.98 203.72,288.99 204.22,287.9 204.72,286.73 205.22,285.48 205.72,284.16 206.22,282.78 206.72,281.34 207.23,279.87 207.73,278.36 208.23,276.83 208.73,275.3 209.23,273.76 209.73,272.23 210.23,270.73 210.73,269.25 211.23,267.82 211.73,266.44 212.23,265.12 212.73,263.88 213.23,262.71 213.73,261.63 214.23,260.64 214.73,259.76 215.23,258.98 215.73,258.31 216.24,257.77 216.74,257.34 217.24,257.04 217.74,256.87 218.24,256.82 218.74,256.94 219.24,257.23 219.74,257.7 220.24,258.34 220.74,259.15 221.24,260.12 221.74,261.26 222.24,262.56 222.74,264 223.24,265.58 223.74,267.3 224.24,269.14 224.74,271.09 225.25,273.15 225.75,275.3 226.25,277.54 226.75,279.85 227.25,282.21 227.75,284.63 228.25,287.07 228.75,289.54 229.25,292.02 229.75,294.5 230.25,296.96 230.75,299.39 231.25,301.78 231.75,304.11 232.25,306.38 232.75,308.57 233.25,310.68 233.75,312.68 234.26,314.57 234.76,316.35 235.26,317.99 235.76,319.5 236.26,320.86 236.76,322.07 237.26,323.12 237.76,324.01 238.26,324.73 238.76,325.27 239.26,325.65 239.76,325.84 240.26,325.86 240.76,325.76 241.26,325.54 241.76,325.2 242.26,324.76 242.76,324.2 243.27,323.53 243.77,322.76 244.27,321.89 244.77,320.92 245.27,319.85 245.77,318.69 246.27,317.45 246.77,316.13 247.27,314.73 247.77,313.27 248.27,311.74 248.77,310.15 249.27,308.52 249.77,306.85 250.27,305.14 250.77,303.4 251.27,301.64 251.77,299.87 252.28,298.09 252.78,296.31 253.28,294.54 253.78,292.79 254.28,291.06 254.78,289.37 255.28,287.71 255.78,286.1 256.28,284.54 256.78,283.04 257.28,281.6 257.78,280.24 258.28,278.95 258.78,277.75 259.28,276.63 259.78,275.6 260.28,274.67 260.78,273.84 261.29,273.12 261.29,314.7" fill="#7096C8"/>
<polygon points="179.69,314.7 179.69,271.66 180.11,271.35 180.52,271.13 180.94,271 181.35,270.95 181.35,314.7" fill="#7BA0F5"/>
<polygon points="199.26,314.7 199.26,293.84 199.77,293.77 200.29,293.57 200.8,293.24 201.31,292.78 201.82,292.19 202.33,291.49 202.84,290.66 203.35,289.73 203.86,288.69 204.37,287.56 204.88,286.33 205.39,285.03 205.91,283.66 206.42,282.23 206.93,280.75 207.44,279.23 207.95,277.68 208.46,276.11 208.97,274.54 209.48,272.98 209.99,271.43 210.5,269.91 211.02,268.43 211.53,267 212.04,265.63 212.55,264.32 213.06,263.1 213.57,261.97 214.08,260.93 214.59,260 215.1,259.17 215.61,258.46 216.12,257.88 216.64,257.42 217.15,257.09 217.66,256.89 218.17,256.82 218.17,314.7" fill="#7BA0F5"/>
<polygon points="240.06,314.7 240.06,325.87 240.56,325.81 241.07,325.64 241.57,325.34 242.08,324.93 242.59,324.41 243.09,323.78 243.6,323.04 244.1,322.19 244.61,321.24 245.11,320.19 245.62,319.05 246.12,317.82 246.63,316.51 247.13,315.12 247.64,313.65 248.14,312.13 248.65,310.54 249.16,308.9 249.66,307.22 250.17,305.5 250.67,303.75 251.18,301.98 251.68,300.19 252.19,298.4 252.69,296.6 253.2,294.82 253.7,293.04 254.21,291.3 254.71,289.58 255.22,287.9 255.73,286.27 256.23,284.69 256.74,283.17 257.24,281.71 257.75,280.33 258.25,279.02 258.76,277.8 259.26,276.67 259.77,275.63 260.27,274.69 260.78,273.85 261.29,273.12 261.29,314.7" fill="#7BA0F5"/>
</g>
<text class="yl" x="249.34" y="278.62" text-anchor="middle">6</text>
<text class="yl" x="249.34" y="298.81" text-anchor="middle">3</text>
<text class="yl" x="249.34" y="319" text-anchor="middle">0</text>
<text class="xl" x="201.19" y="332.8" text-anchor="middle">6a</text>
<text class="xl" x="221.09" y="332.8" text-anchor="middle">12</text>
<text class="xl" x="240.99" y="332.8" text-anchor="middle">6p</text>
<text class="dn" x="242.44" y="267.6">15</text>
<clipPath id="c16"><rect x="261.26" y="254.4" width="79.6" height="78.3"/></clipPath>
<g clip-path="url(#c16)">
<rect x="285.31" y="254.4" width="31.9" height="60.3" fill="#F9EA7E"/>
<path d="M281.16 254.4V330.7M301.06 254.4V330.7M320.96 254.4V330.7M261.26 294.51H340.86M261.26 274.32H340.86" stroke="#DCDCE4" stroke-width="1" fill="none" opacity="0.65"/>
<polygon points="260.26,314.7 260.26,276.6 260.77,275.58 261.27,274.65 261.77,273.82 262.27,273.1 262.77,272.49 263.27,271.98 263.77,271.59 264.27,271.31 264.77,271.14 265.27,271.09 265.77,271.15 266.27,271.3 266.77,271.55 267.27,271.9 267.77,272.34 268.27,272.86 268.77,273.47 269.27,274.16 269.78,274.92 270.28,275.74 270.78,276.62 271.28,277.55 271.78,278.53 272.28,279.53 272.78,280.56 273.28,281.6 273.78,282.65 274.28,283.69 274.78,284.71 275.28,285.72 275.78,286.69 276.28,287.62 276.78,288.5 277.28,289.33 277.78,290.09 278.28,290.78 278.79,291.39 279.29,291.91 279.79,292.35 280.29,292.7 280.79,292.95 281.29,293.11 281.79,293.16 282.29,293.11 282.79,292.94 283.29,292.65 283.79,292.25 284.29,291.73 284.79,291.1 285.29,290.37 285.79,289.53 286.29,288.61 286.79,287.59 287.29,286.49 287.8,285.32 288.3,284.09 288.8,282.79 289.3,281.45 289.8,280.07 290.3,278.67 290.8,277.24 291.3,275.8 291.8,274.36 292.3,272.94 292.8,271.53 293.3,270.16 293.8,268.82 294.3,267.53 294.8,266.3 295.3,265.14 295.8,264.05 296.3,263.04 296.81,262.12 297.31,261.29 297.81,260.57 298.31,259.95 298.81,259.45 299.31,259.05 299.81,258.77 300.31,258.61 300.81,258.57 301.31,258.67 301.81,258.93 302.31,259.33 302.81,259.88 303.31,260.58 303.81,261.41 304.31,262.39 304.81,263.5 305.31,264.75 305.82,266.11 306.32,267.59 306.82,269.19 307.32,270.88 307.82,272.67 308.32,274.55 308.82,276.51 309.32,278.54 309.82,280.62 310.32,282.76 310.82,284.94 311.32,287.15 311.82,289.38 312.32,291.62 312.82,293.86 313.32,296.09 313.82,298.3 314.32,300.48 314.83,302.62 315.33,304.71 315.83,306.74 316.33,308.71 316.83,310.59 317.33,312.39 317.83,314.09 318.33,315.69 318.83,317.17 319.33,318.55 319.83,319.79 320.33,320.91 320.83,321.9 321.33,322.75 321.83,323.45 322.33,324.01 322.83,324.42 323.33,324.68 323.84,324.79 324.34,324.76 324.84,324.62 325.34,324.36 325.84,324 326.34,323.53 326.84,322.95 327.34,322.26 327.84,321.48 328.34,320.59 328.84,319.61 329.34,318.54 329.84,317.39 330.34,316.15 330.84,314.84 331.34,313.46 331.84,312.01 332.34,310.5 332.85,308.94 333.35,307.34 333.85,305.69 334.35,304.02 334.85,302.31 335.35,300.59 335.85,298.86 336.35,297.12 336.85,295.38 337.35,293.66 337.85,291.95 338.35,290.27 338.85,288.61 339.35,287 339.85,285.43 340.35,283.91 340.85,282.45 341.35,281.05 341.86,279.73 341.86,314.7" fill="#7096C8"/>
<polygon points="260.26,314.7 260.26,276.6 260.82,275.48 261.37,274.47 261.92,273.59 262.48,272.83 263.03,272.21 263.58,271.72 264.13,271.37 264.69,271.16 265.24,271.09 265.24,314.7" fill="#7BA0F5"/>
<polygon points="281.82,314.7 281.82,293.16 282.33,293.1 282.85,292.92 283.36,292.61 283.87,292.18 284.38,291.63 284.89,290.97 285.4,290.2 285.91,289.32 286.42,288.35 286.93,287.29 287.44,286.15 287.95,284.94 288.47,283.65 288.98,282.32 289.49,280.93 290,279.51 290.51,278.06 291.02,276.6 291.53,275.13 292.04,273.67 292.55,272.22 293.06,270.8 293.58,269.42 294.09,268.08 294.6,266.8 295.11,265.58 295.62,264.44 296.13,263.38 296.64,262.41 297.15,261.54 297.66,260.77 298.17,260.11 298.68,259.56 299.2,259.13 299.71,258.82 300.22,258.63 300.73,258.57 300.73,314.7" fill="#7BA0F5"/>
<polygon points="323.94,314.7 323.94,324.8 324.46,324.74 324.97,324.56 325.48,324.27 325.99,323.86 326.5,323.35 327.02,322.72 327.53,321.98 328.04,321.14 328.55,320.19 329.06,319.15 329.57,318.02 330.09,316.8 330.6,315.49 331.11,314.11 331.62,312.66 332.13,311.15 332.64,309.58 333.16,307.95 333.67,306.28 334.18,304.58 334.69,302.85 335.2,301.09 335.71,299.32 336.23,297.54 336.74,295.77 337.25,294 337.76,292.25 338.27,290.53 338.78,288.83 339.3,287.18 339.81,285.57 340.32,284.01 340.83,282.51 341.34,281.08 341.86,279.73 341.86,314.7" fill="#7BA0F5"/>
</g>
<text class="yl" x="329.91" y="278.62" text-anchor="middle">6</text>
<text class="yl" x="329.91" y="298.81" text-anchor="middle">3</text>
<text class="yl" x="329.91" y="319" text-anchor="middle">0</text>
<text class="xl" x="281.76" y="332.8" text-anchor="middle">6a</text>
<text class="xl" x="301.66" y="332.8" text-anchor="middle">12</text>
<text class="xl" x="321.56" y="332.8" text-anchor="middle">6p</text>
<text class="dn" x="323.01" y="267.6">16</text>
<clipPath id="c17"><rect x="341.83" y="254.4" width="79.6" height="78.3"/></clipPath>
<g clip-path="url(#c17)">
<rect x="365.91" y="254.4" width="31.87" height="60.3" fill="#F9EA7E"/>
<path d="M361.73 254.4V330.7M381.63 254.4V330.7M401.53 254.4V330.7M341.83 294.51H421.43M341.83 274.32H421.43" stroke="#DCDCE4" stroke-width="1" fill="none" opacity="0.65"/>
<polygon points="340.83,314.7 340.83,285.39 341.34,283.88 341.84,282.42 342.34,281.02 342.84,279.7 343.34,278.45 343.84,277.28 344.34,276.19 344.84,275.2 345.34,274.29 345.84,273.49 346.34,272.79 346.84,272.19 347.34,271.69 347.84,271.31 348.34,271.04 348.84,270.87 349.34,270.82 349.84,270.88 350.35,271.04 350.85,271.3 351.35,271.66 351.85,272.11 352.35,272.66 352.85,273.29 353.35,274 353.85,274.79 354.35,275.64 354.85,276.54 355.35,277.5 355.85,278.49 356.35,279.51 356.85,280.55 357.35,281.6 357.85,282.64 358.35,283.68 358.85,284.69 359.36,285.67 359.86,286.61 360.36,287.5 360.86,288.33 361.36,289.09 361.86,289.77 362.36,290.38 362.86,290.89 363.36,291.32 363.86,291.64 364.36,291.87 364.86,291.99 365.36,292.02 365.86,291.93 366.36,291.75 366.86,291.46 367.36,291.08 367.86,290.6 368.37,290.02 368.87,289.36 369.37,288.61 369.87,287.78 370.37,286.88 370.87,285.91 371.37,284.88 371.87,283.79 372.37,282.66 372.87,281.49 373.37,280.28 373.87,279.06 374.37,277.81 374.87,276.57 375.37,275.32 375.87,274.09 376.37,272.87 376.87,271.68 377.38,270.53 377.88,269.42 378.38,268.36 378.88,267.35 379.38,266.42 379.88,265.55 380.38,264.76 380.88,264.05 381.38,263.43 381.88,262.91 382.38,262.47 382.88,262.14 383.38,261.9 383.88,261.77 384.38,261.74 384.88,261.83 385.38,262.06 385.88,262.42 386.39,262.92 386.89,263.55 387.39,264.3 387.89,265.18 388.39,266.17 388.89,267.28 389.39,268.51 389.89,269.83 390.39,271.26 390.89,272.78 391.39,274.39 391.89,276.07 392.39,277.83 392.89,279.65 393.39,281.52 393.89,283.45 394.39,285.41 394.89,287.4 395.4,289.41 395.9,291.43 396.4,293.46 396.9,295.48 397.4,297.48 397.9,299.47 398.4,301.41 398.9,303.32 399.4,305.18 399.9,306.97 400.4,308.71 400.9,310.36 401.4,311.94 401.9,313.43 402.4,314.82 402.9,316.11 403.4,317.3 403.9,318.37 404.41,319.32 404.91,320.16 405.41,320.86 405.91,321.44 406.41,321.89 406.91,322.21 407.41,322.39 407.91,322.44 408.41,322.37 408.91,322.18 409.41,321.89 409.91,321.48 410.41,320.97 410.91,320.36 411.41,319.64 411.91,318.82 412.41,317.91 412.91,316.91 413.42,315.82 413.92,314.65 414.42,313.4 414.92,312.07 415.42,310.69 415.92,309.24 416.42,307.74 416.92,306.19 417.42,304.61 417.92,302.99 418.42,301.35 418.92,299.68 419.42,298.01 419.92,296.33 420.42,294.66 420.92,292.99 421.42,291.35 421.92,289.73 422.43,288.14 422.43,314.7" fill="#7096C8"/>
<polygon points="340.83,314.7 340.83,285.39 341.37,283.79 341.9,282.24 342.43,280.78 342.96,279.39 343.49,278.08 344.02,276.87 344.55,275.76 345.08,274.75 345.61,273.85 346.14,273.05 346.67,272.38 347.2,271.82 347.73,271.38 348.26,271.07 348.79,270.88 349.33,270.82 349.33,314.7" fill="#7BA0F5"/>
<polygon points="365.21,314.7 365.21,292.02 365.71,291.97 366.22,291.81 366.72,291.56 367.22,291.2 367.72,290.74 368.22,290.19 368.73,289.55 369.23,288.83 369.73,288.02 370.23,287.13 370.73,286.18 371.23,285.16 371.74,284.08 372.24,282.96 372.74,281.79 373.24,280.59 373.74,279.37 374.25,278.13 374.75,276.88 375.25,275.63 375.75,274.39 376.25,273.16 376.76,271.96 377.26,270.79 377.76,269.67 378.26,268.6 378.76,267.58 379.26,266.62 379.77,265.74 380.27,264.93 380.77,264.2 381.27,263.56 381.77,263.01 382.28,262.56 382.78,262.2 383.28,261.94 383.78,261.79 384.28,261.73 384.28,314.7" fill="#7BA0F5"/>
<polygon points="407.83,314.7 407.83,322.44 408.33,322.38 408.84,322.21 409.34,321.93 409.84,321.54 410.35,321.04 410.85,320.44 411.35,319.73 411.86,318.92 412.36,318.01 412.86,317.01 413.37,315.93 413.87,314.75 414.37,313.51 414.88,312.18 415.38,310.79 415.88,309.34 416.39,307.84 416.89,306.29 417.39,304.69 417.9,303.07 418.4,301.42 418.9,299.74 419.41,298.06 419.91,296.37 420.41,294.69 420.92,293.02 421.42,291.37 421.92,289.74 422.43,288.14 422.43,314.7" fill="#7BA0F5"/>
</g>
<text class="yl" x="410.48" y="278.62" text-anchor="middle">6</text>
<text class="yl" x="410.48" y="298.81" text-anchor="middle">3</text>
<text class="yl" x="410.48" y="319" text-anchor="middle">0</text>
<text class="xl" x="362.33" y="332.8" text-anchor="middle">6a</text>
<text class="xl" x="382.23" y="332.8" text-anchor="middle">12</text>
<text class="xl" x="402.13" y="332.8" text-anchor="middle">6p</text>
<text class="dn" x="403.58" y="267.6">17</text>
<clipPath id="c18"><rect x="422.4" y="254.4" width="79.6" height="78.3"/></clipPath>
<g clip-path="url(#c18)">
<rect x="446.5" y="254.4" width="31.85" height="60.3" fill="#F9EA7E"/>
<path d="M442.3 254.4V330.7M462.2 254.4V330.7M482.1 254.4V330.7M422.4 294.51H502M422.4 274.32H502" stroke="#DCDCE4" stroke-width="1" fill="none" opacity="0.65"/>
<polygon points="421.4,314.7 421.4,294.62 421.91,292.95 422.41,291.31 422.91,289.69 423.41,288.1 423.91,286.56 424.41,285.06 424.91,283.62 425.41,282.23 425.91,280.91 426.41,279.66 426.91,278.49 427.41,277.4 427.91,276.4 428.41,275.49 428.91,274.68 429.41,273.96 429.91,273.35 430.41,272.84 430.92,272.44 431.42,272.15 431.92,271.97 432.42,271.9 432.92,271.94 433.42,272.07 433.92,272.31 434.42,272.64 434.92,273.07 435.42,273.59 435.92,274.19 436.42,274.86 436.92,275.61 437.42,276.42 437.92,277.28 438.42,278.19 438.92,279.13 439.42,280.1 439.93,281.09 440.43,282.08 440.93,283.07 441.43,284.04 441.93,284.99 442.43,285.91 442.93,286.78 443.43,287.59 443.93,288.35 444.43,289.04 444.93,289.65 445.43,290.17 445.93,290.61 446.43,290.96 446.93,291.21 447.43,291.36 447.93,291.41 448.43,291.37 448.94,291.25 449.44,291.05 449.94,290.76 450.44,290.4 450.94,289.96 451.44,289.45 451.94,288.87 452.44,288.23 452.94,287.52 453.44,286.75 453.94,285.94 454.44,285.07 454.94,284.17 455.44,283.23 455.94,282.25 456.44,281.26 456.94,280.25 457.44,279.23 457.95,278.2 458.45,277.18 458.95,276.17 459.45,275.17 459.95,274.2 460.45,273.26 460.95,272.35 461.45,271.48 461.95,270.65 462.45,269.88 462.95,269.17 463.45,268.52 463.95,267.93 464.45,267.41 464.95,266.96 465.45,266.59 465.95,266.3 466.45,266.09 466.96,265.96 467.46,265.91 467.96,265.96 468.46,266.12 468.96,266.41 469.46,266.81 469.96,267.33 470.46,267.96 470.96,268.7 471.46,269.54 471.96,270.49 472.46,271.54 472.96,272.68 473.46,273.91 473.96,275.22 474.46,276.61 474.96,278.06 475.46,279.59 475.97,281.16 476.47,282.79 476.97,284.46 477.47,286.17 477.97,287.9 478.47,289.64 478.97,291.4 479.47,293.16 479.97,294.92 480.47,296.66 480.97,298.38 481.47,300.07 481.97,301.73 482.47,303.33 482.97,304.89 483.47,306.39 483.97,307.82 484.47,309.17 484.98,310.45 485.48,311.64 485.98,312.75 486.48,313.75 486.98,314.66 487.48,315.46 487.98,316.16 488.48,316.74 488.98,317.21 489.48,317.56 489.98,317.8 490.48,317.92 490.98,317.92 491.48,317.82 491.98,317.62 492.48,317.33 492.98,316.94 493.48,316.45 493.99,315.88 494.49,315.21 494.99,314.46 495.49,313.62 495.99,312.71 496.49,311.72 496.99,310.66 497.49,309.53 497.99,308.34 498.49,307.09 498.99,305.79 499.49,304.44 499.99,303.06 500.49,301.64 500.99,300.19 501.49,298.72 501.99,297.23 502.49,295.74 503,294.24 503,314.7" fill="#7096C8"/>
<polygon points="421.4,314.7 421.4,294.62 421.91,292.94 422.41,291.29 422.92,289.66 423.42,288.07 423.92,286.51 424.43,285.01 424.93,283.56 425.43,282.17 425.94,280.84 426.44,279.59 426.94,278.42 427.45,277.33 427.95,276.33 428.45,275.42 428.96,274.61 429.46,273.9 429.97,273.29 430.47,272.79 430.97,272.4 431.48,272.12 431.98,271.95 432.48,271.9 432.48,314.7" fill="#7BA0F5"/>
<polygon points="447.94,314.7 447.94,291.41 448.44,291.37 448.94,291.25 449.44,291.04 449.95,290.76 450.45,290.39 450.95,289.95 451.45,289.44 451.95,288.86 452.45,288.21 452.96,287.5 453.46,286.73 453.96,285.91 454.46,285.04 454.96,284.13 455.46,283.18 455.97,282.21 456.47,281.21 456.97,280.2 457.47,279.17 457.97,278.15 458.48,277.12 458.98,276.11 459.48,275.11 459.98,274.14 460.48,273.19 460.98,272.28 461.49,271.42 461.99,270.6 462.49,269.83 462.99,269.11 463.49,268.47 463.99,267.88 464.5,267.37 465,266.93 465.5,266.56 466,266.28 466.5,266.07 467,265.95 467.51,265.91 467.51,314.7" fill="#7BA0F5"/>
<polygon points="490.72,314.7 490.72,317.93 491.23,317.88 491.75,317.73 492.26,317.47 492.77,317.12 493.28,316.66 493.79,316.11 494.3,315.46 494.81,314.73 495.33,313.9 495.84,312.99 496.35,312 496.86,310.94 497.37,309.8 497.88,308.6 498.39,307.33 498.9,306.02 499.42,304.65 499.93,303.24 500.44,301.79 500.95,300.31 501.46,298.81 501.97,297.3 502.48,295.77 503,294.24 503,314.7" fill="#7BA0F5"/>
</g>
<text class="yl" x="491.05" y="278.62" text-anchor="middle">6</text>
<text class="yl" x="491.05" y="298.81" text-anchor="middle">3</text>
<text class="yl" x="491.05" y="319" text-anchor="middle">0</text>
<text class="xl" x="442.9" y="332.8" text-anchor="middle">6a</text>
<text class="xl" x="462.8" y="332.8" text-anchor="middle">12</text>
<text class="xl" x="482.7" y="332.8" text-anchor="middle">6p</text>
<text class="dn" x="484.15" y="267.6">18</text>
<clipPath id="c19"><rect x="502.97" y="254.4" width="79.6" height="78.3"/></clipPath>
<g clip-path="url(#c19)">
<rect x="527.1" y="254.4" width="31.82" height="60.3" fill="#F9EA7E"/>
<path d="M522.87 254.4V330.7M542.77 254.4V330.7M562.67 254.4V330.7M502.97 294.51H582.57M502.97 274.32H582.57" stroke="#DCDCE4" stroke-width="1" fill="none" opacity="0.65"/>
<polygon points="501.97,314.7 501.97,300.15 502.48,298.68 502.98,297.2 503.48,295.7 503.98,294.2 504.48,292.71 504.98,291.22 505.48,289.76 505.98,288.31 506.48,286.9 506.98,285.52 507.48,284.18 507.98,282.88 508.48,281.64 508.98,280.46 509.48,279.34 509.98,278.29 510.48,277.31 510.98,276.41 511.49,275.59 511.99,274.85 512.49,274.2 512.99,273.63 513.49,273.16 513.99,272.79 514.49,272.51 514.99,272.33 515.49,272.24 515.99,272.25 516.49,272.33 516.99,272.49 517.49,272.72 517.99,273.02 518.49,273.39 518.99,273.82 519.49,274.32 519.99,274.87 520.5,275.47 521,276.13 521.5,276.82 522,277.56 522.5,278.32 523,279.11 523.5,279.92 524,280.74 524.5,281.56 525,282.39 525.5,283.21 526,284.01 526.5,284.79 527,285.54 527.5,286.27 528,286.95 528.5,287.58 529,288.17 529.51,288.7 530.01,289.18 530.51,289.59 531.01,289.93 531.51,290.21 532.01,290.41 532.51,290.55 533.01,290.6 533.51,290.59 534.01,290.49 534.51,290.33 535.01,290.08 535.51,289.77 536.01,289.39 536.51,288.94 537.01,288.42 537.51,287.85 538.01,287.22 538.52,286.54 539.02,285.82 539.52,285.06 540.02,284.26 540.52,283.44 541.02,282.59 541.52,281.73 542.02,280.87 542.52,280 543.02,279.13 543.52,278.28 544.02,277.45 544.52,276.65 545.02,275.87 545.52,275.13 546.02,274.44 546.52,273.79 547.02,273.2 547.53,272.66 548.03,272.19 548.53,271.78 549.03,271.44 549.53,271.18 550.03,270.98 550.53,270.86 551.03,270.82 551.53,270.86 552.03,271 552.53,271.23 553.03,271.56 553.53,271.98 554.03,272.5 554.53,273.1 555.03,273.78 555.53,274.55 556.03,275.4 556.54,276.33 557.04,277.33 557.54,278.39 558.04,279.52 558.54,280.7 559.04,281.94 559.54,283.22 560.04,284.55 560.54,285.91 561.04,287.3 561.54,288.71 562.04,290.14 562.54,291.58 563.04,293.02 563.54,294.46 564.04,295.89 564.54,297.3 565.04,298.7 565.55,300.06 566.05,301.39 566.55,302.69 567.05,303.93 567.55,305.13 568.05,306.26 568.55,307.34 569.05,308.35 569.55,309.29 570.05,310.15 570.55,310.94 571.05,311.64 571.55,312.25 572.05,312.78 572.55,313.22 573.05,313.56 573.55,313.81 574.05,313.97 574.56,314.03 575.06,313.99 575.56,313.85 576.06,313.61 576.56,313.28 577.06,312.84 577.56,312.32 578.06,311.7 578.56,310.99 579.06,310.2 579.56,309.33 580.06,308.38 580.56,307.36 581.06,306.26 581.56,305.11 582.06,303.9 582.56,302.63 583.06,301.33 583.57,299.98 583.57,314.7" fill="#7096C8"/>
<polygon points="501.97,314.7 501.97,300.15 502.48,298.66 502.99,297.15 503.5,295.64 504,294.12 504.51,292.61 505.02,291.1 505.53,289.62 506.03,288.16 506.54,286.73 507.05,285.33 507.56,283.98 508.06,282.68 508.57,281.43 509.08,280.25 509.58,279.12 510.09,278.07 510.6,277.1 511.11,276.2 511.61,275.39 512.12,274.66 512.63,274.03 513.14,273.48 513.64,273.04 514.15,272.69 514.66,272.44 515.17,272.28 515.67,272.23 515.67,314.7" fill="#7BA0F5"/>
<polygon points="533.15,314.7 533.15,290.61 533.66,290.57 534.18,290.45 534.69,290.25 535.2,289.98 535.71,289.63 536.22,289.21 536.73,288.72 537.25,288.16 537.76,287.55 538.27,286.88 538.78,286.16 539.29,285.4 539.8,284.6 540.32,283.77 540.83,282.91 541.34,282.04 541.85,281.16 542.36,280.27 542.87,279.39 543.39,278.51 543.9,277.66 544.41,276.83 544.92,276.03 545.43,275.26 545.94,274.55 546.46,273.88 546.97,273.26 547.48,272.71 547.99,272.22 548.5,271.8 549.01,271.45 549.53,271.18 550.04,270.98 550.55,270.86 551.06,270.82 551.06,314.7" fill="#7BA0F5"/>
<polygon points="574.61,314.7 574.61,314.03 575.14,313.97 575.66,313.81 576.19,313.53 576.72,313.15 577.24,312.66 577.77,312.07 578.3,311.38 578.82,310.59 579.35,309.71 579.88,308.74 580.4,307.69 580.93,306.56 581.46,305.36 581.98,304.09 582.51,302.77 583.04,301.4 583.57,299.98 583.57,314.7" fill="#7BA0F5"/>
</g>
<text class="yl" x="571.62" y="278.62" text-anchor="middle">6</text>
<text class="yl" x="571.62" y="298.81" text-anchor="middle">3</text>
<text class="yl" x="571.62" y="319" text-anchor="middle">0</text>
<text class="xl" x="523.47" y="332.8" text-anchor="middle">6a</text>
<text class="xl" x="543.37" y="332.8" text-anchor="middle">12</text>
<text class="xl" x="563.27" y="332.8" text-anchor="middle">6p</text>
<text class="dn" x="564.72" y="267.6">19</text>
<clipPath id="c20"><rect x="19.55" y="337.9" width="79.6" height="78.7"/></clipPath>
<g clip-path="url(#c20)">
<rect x="43.71" y="337.9" width="31.79" height="60.7" fill="#F9EA7E"/>
<path d="M39.45 337.9V414.6M59.35 337.9V414.6M79.25 337.9V414.6M19.55 378.41H99.15M19.55 358.22H99.15" stroke="#DCDCE4" stroke-width="1" fill="none" opacity="0.65"/>
<polygon points="18.55,398.6 18.55,388.98 19.06,387.77 19.56,386.5 20.06,385.19 20.56,383.84 21.06,382.46 21.56,381.05 22.06,379.63 22.56,378.19 23.06,376.74 23.56,375.29 24.06,373.86 24.56,372.44 25.06,371.03 25.56,369.66 26.06,368.32 26.56,367.03 27.06,365.78 27.56,364.58 28.07,363.45 28.57,362.37 29.07,361.37 29.57,360.44 30.07,359.59 30.57,358.82 31.07,358.14 31.57,357.55 32.07,357.05 32.57,356.64 33.07,356.34 33.57,356.13 34.07,356.02 34.57,356 35.07,356.07 35.57,356.2 36.07,356.4 36.57,356.67 37.08,357.01 37.58,357.4 38.08,357.86 38.58,358.38 39.08,358.95 39.58,359.56 40.08,360.23 40.58,360.93 41.08,361.67 41.58,362.43 42.08,363.23 42.58,364.04 43.08,364.86 43.58,365.69 44.08,366.52 44.58,367.34 45.08,368.15 45.58,368.95 46.09,369.73 46.59,370.47 47.09,371.18 47.59,371.86 48.09,372.49 48.59,373.07 49.09,373.6 49.59,374.07 50.09,374.48 50.59,374.83 51.09,375.12 51.59,375.34 52.09,375.49 52.59,375.57 53.09,375.58 53.59,375.53 54.09,375.42 54.59,375.24 55.1,375.02 55.6,374.73 56.1,374.39 56.6,374 57.1,373.56 57.6,373.07 58.1,372.54 58.6,371.97 59.1,371.37 59.6,370.74 60.1,370.08 60.6,369.41 61.1,368.72 61.6,368.01 62.1,367.31 62.6,366.6 63.1,365.9 63.6,365.2 64.11,364.53 64.61,363.87 65.11,363.24 65.61,362.64 66.11,362.07 66.61,361.54 67.11,361.05 67.61,360.61 68.11,360.22 68.61,359.88 69.11,359.6 69.61,359.37 70.11,359.19 70.61,359.08 71.11,359.03 71.61,359.05 72.11,359.15 72.61,359.33 73.12,359.6 73.62,359.96 74.12,360.4 74.62,360.92 75.12,361.51 75.62,362.18 76.12,362.93 76.62,363.73 77.12,364.61 77.62,365.54 78.12,366.52 78.62,367.56 79.12,368.64 79.62,369.75 80.12,370.9 80.62,372.08 81.12,373.28 81.62,374.49 82.13,375.71 82.63,376.93 83.13,378.15 83.63,379.37 84.13,380.56 84.63,381.73 85.13,382.88 85.63,383.99 86.13,385.06 86.63,386.09 87.13,387.06 87.63,387.99 88.13,388.85 88.63,389.65 89.13,390.38 89.63,391.04 90.13,391.62 90.63,392.12 91.14,392.55 91.64,392.89 92.14,393.15 92.64,393.32 93.14,393.41 93.64,393.41 94.14,393.32 94.64,393.14 95.14,392.87 95.64,392.52 96.14,392.08 96.64,391.56 97.14,390.96 97.64,390.28 98.14,389.53 98.64,388.71 99.14,387.82 99.64,386.87 100.15,385.86 100.15,398.6" fill="#7096C8"/>
<polygon points="18.55,398.6 18.55,388.98 19.07,387.74 19.58,386.45 20.09,385.12 20.6,383.74 21.11,382.33 21.62,380.89 22.13,379.43 22.64,377.96 23.15,376.49 23.66,375.01 24.17,373.55 24.68,372.1 25.19,370.68 25.7,369.29 26.21,367.94 26.72,366.63 27.23,365.37 27.74,364.17 28.25,363.04 28.76,361.97 29.27,360.98 29.78,360.06 30.29,359.23 30.8,358.49 31.31,357.84 31.82,357.28 32.33,356.82 32.84,356.46 33.35,356.21 33.87,356.05 34.38,356 34.38,398.6" fill="#7BA0F5"/>
<polygon points="52.92,398.6 52.92,375.58 53.43,375.55 53.94,375.46 54.45,375.3 54.96,375.08 55.47,374.81 55.98,374.47 56.49,374.09 57,373.65 57.51,373.16 58.02,372.63 58.53,372.05 59.04,371.44 59.55,370.8 60.06,370.14 60.57,369.45 61.08,368.74 61.59,368.03 62.1,367.31 62.61,366.58 63.12,365.87 63.63,365.16 64.14,364.47 64.65,363.81 65.17,363.17 65.68,362.56 66.19,361.98 66.7,361.45 67.21,360.96 67.72,360.52 68.23,360.14 68.74,359.8 69.25,359.53 69.76,359.31 70.27,359.15 70.78,359.06 71.29,359.03 71.29,398.6" fill="#7BA0F5"/>
<polygon points="93.38,398.6 93.38,393.42 93.9,393.37 94.42,393.23 94.94,392.99 95.46,392.65 95.98,392.23 96.5,391.71 97.02,391.11 97.54,390.42 98.06,389.66 98.58,388.81 99.1,387.89 99.62,386.91 100.15,385.86 100.15,398.6" fill="#7BA0F5"/>
</g>
<text class="yl" x="88.2" y="362.52" text-anchor="middle">6</text>
<text class="yl" x="88.2" y="382.71" text-anchor="middle">3</text>
<text class="yl" x="88.2" y="402.9" text-anchor="middle">0</text>
<text class="xl" x="40.05" y="416.7" text-anchor="middle">6a</text>
<text class="xl" x="59.95" y="416.7" text-anchor="middle">12</text>
<text class="xl" x="79.85" y="416.7" text-anchor="middle">6p</text>
<text class="dn" x="81.3" y="351.5">20</text>
<clipPath id="c21"><rect x="100.12" y="337.9" width="79.6" height="78.7"/></clipPath>
<g clip-path="url(#c21)">
<rect x="124.3" y="337.9" width="31.77" height="60.7" fill="#F9EA7E"/>
<path d="M120.02 337.9V414.6M139.92 337.9V414.6M159.82 337.9V414.6M100.12 378.41H179.72M100.12 358.22H179.72" stroke="#DCDCE4" stroke-width="1" fill="none" opacity="0.65"/>
<polygon points="99.12,398.6 99.12,389.51 99.63,388.69 100.13,387.8 100.63,386.84 101.13,385.83 101.63,384.77 102.13,383.65 102.63,382.5 103.13,381.3 103.63,380.08 104.13,378.83 104.63,377.55 105.13,376.27 105.63,374.97 106.13,373.67 106.63,372.38 107.13,371.1 107.63,369.83 108.13,368.58 108.64,367.36 109.14,366.18 109.64,365.03 110.14,363.93 110.64,362.88 111.14,361.88 111.64,360.94 112.14,360.06 112.64,359.25 113.14,358.52 113.64,357.86 114.14,357.27 114.64,356.77 115.14,356.35 115.64,356.01 116.14,355.76 116.64,355.6 117.14,355.53 117.65,355.54 118.15,355.62 118.65,355.77 119.15,355.98 119.65,356.26 120.15,356.6 120.65,357 121.15,357.46 121.65,357.98 122.15,358.54 122.65,359.16 123.15,359.82 123.65,360.52 124.15,361.26 124.65,362.03 125.15,362.82 125.65,363.64 126.15,364.48 126.66,365.32 127.16,366.18 127.66,367.03 128.16,367.89 128.66,368.73 129.16,369.56 129.66,370.37 130.16,371.15 130.66,371.9 131.16,372.62 131.66,373.31 132.16,373.94 132.66,374.54 133.16,375.08 133.66,375.57 134.16,376 134.66,376.37 135.16,376.68 135.67,376.92 136.17,377.1 136.67,377.22 137.17,377.26 137.67,377.25 138.17,377.17 138.67,377.03 139.17,376.84 139.67,376.59 140.17,376.29 140.67,375.93 141.17,375.53 141.67,375.08 142.17,374.59 142.67,374.06 143.17,373.5 143.67,372.91 144.17,372.3 144.68,371.67 145.18,371.03 145.68,370.38 146.18,369.72 146.68,369.07 147.18,368.43 147.68,367.8 148.18,367.2 148.68,366.61 149.18,366.06 149.68,365.53 150.18,365.05 150.68,364.61 151.18,364.21 151.68,363.86 152.18,363.57 152.68,363.33 153.18,363.14 153.69,363.01 154.19,362.94 154.69,362.93 155.19,362.98 155.69,363.08 156.19,363.23 156.69,363.43 157.19,363.68 157.69,363.99 158.19,364.34 158.69,364.74 159.19,365.18 159.69,365.67 160.19,366.21 160.69,366.78 161.19,367.39 161.69,368.03 162.19,368.7 162.7,369.41 163.2,370.14 163.7,370.9 164.2,371.67 164.7,372.47 165.2,373.27 165.7,374.09 166.2,374.92 166.7,375.74 167.2,376.57 167.7,377.4 168.2,378.22 168.7,379.03 169.2,379.83 169.7,380.61 170.2,381.38 170.7,382.12 171.2,382.83 171.71,383.52 172.21,384.17 172.71,384.79 173.21,385.38 173.71,385.92 174.21,386.43 174.71,386.89 175.21,387.3 175.71,387.67 176.21,387.99 176.71,388.26 177.21,388.48 177.71,388.65 178.21,388.77 178.71,388.83 179.21,388.84 179.71,388.76 180.21,388.59 180.72,388.33 180.72,398.6" fill="#7096C8"/>
<polygon points="99.12,398.6 99.12,389.51 99.63,388.68 100.13,387.78 100.64,386.82 101.14,385.8 101.65,384.72 102.15,383.6 102.66,382.43 103.16,381.22 103.67,379.98 104.17,378.72 104.68,377.43 105.18,376.13 105.69,374.83 106.19,373.52 106.7,372.21 107.2,370.92 107.71,369.64 108.21,368.39 108.72,367.17 109.22,365.98 109.73,364.83 110.23,363.72 110.74,362.67 111.24,361.68 111.75,360.74 112.25,359.87 112.76,359.08 113.26,358.35 113.77,357.7 114.27,357.13 114.78,356.65 115.28,356.25 115.79,355.93 116.29,355.71 116.8,355.57 117.3,355.53 117.3,398.6" fill="#7BA0F5"/>
<polygon points="137.27,398.6 137.27,377.27 137.77,377.24 138.28,377.14 138.79,376.99 139.3,376.78 139.8,376.51 140.31,376.19 140.82,375.82 141.32,375.4 141.83,374.93 142.34,374.42 142.85,373.87 143.35,373.29 143.86,372.69 144.37,372.06 144.88,371.42 145.38,370.76 145.89,370.1 146.4,369.44 146.9,368.78 147.41,368.14 147.92,367.51 148.43,366.9 148.93,366.33 149.44,365.78 149.95,365.27 150.46,364.8 150.96,364.38 151.47,364 151.98,363.68 152.48,363.42 152.99,363.2 153.5,363.05 154.01,362.96 154.51,362.93 154.51,398.6" fill="#7BA0F5"/>
<polygon points="179.06,398.6 179.06,388.84 179.47,388.81 179.89,388.71 180.3,388.55 180.72,388.33 180.72,398.6" fill="#7BA0F5"/>
</g>
<text class="yl" x="168.77" y="362.52" text-anchor="middle">6</text>
<text class="yl" x="168.77" y="382.71" text-anchor="middle">3</text>
<text class="yl" x="168.77" y="402.9" text-anchor="middle">0</text>
<text class="xl" x="120.62" y="416.7" text-anchor="middle">6a</text>
<text class="xl" x="140.52" y="416.7" text-anchor="middle">12</text>
<text class="xl" x="160.42" y="416.7" text-anchor="middle">6p</text>
<text class="dn" x="161.87" y="351.5">21</text>
<clipPath id="c22"><rect x="180.69" y="337.9" width="79.6" height="78.7"/></clipPath>
<g clip-path="url(#c22)">
<rect x="204.9" y="337.9" width="31.74" height="60.7" fill="#F9EA7E"/>
<path d="M200.59 337.9V414.6M220.49 337.9V414.6M240.39 337.9V414.6M180.69 378.41H260.29M180.69 358.22H260.29" stroke="#DCDCE4" stroke-width="1" fill="none" opacity="0.65"/>
<polygon points="179.69,398.6 179.69,388.83 180.2,388.84 180.7,388.76 181.2,388.59 181.7,388.32 182.2,387.97 182.7,387.53 183.2,387 183.7,386.39 184.2,385.7 184.7,384.94 185.2,384.1 185.7,383.19 186.2,382.22 186.7,381.2 187.2,380.12 187.7,379 188.2,377.84 188.7,376.65 189.21,375.43 189.71,374.19 190.21,372.94 190.71,371.68 191.21,370.42 191.71,369.17 192.21,367.94 192.71,366.72 193.21,365.54 193.71,364.39 194.21,363.28 194.71,362.22 195.21,361.21 195.71,360.26 196.21,359.37 196.71,358.55 197.21,357.8 197.71,357.13 198.22,356.54 198.72,356.04 199.22,355.62 199.72,355.29 200.22,355.05 200.72,354.91 201.22,354.86 201.72,354.88 202.22,354.98 202.72,355.15 203.22,355.39 203.72,355.69 204.22,356.05 204.72,356.48 205.22,356.97 205.72,357.51 206.22,358.11 206.72,358.77 207.23,359.46 207.73,360.21 208.23,360.99 208.73,361.8 209.23,362.65 209.73,363.52 210.23,364.42 210.73,365.33 211.23,366.25 211.73,367.18 212.23,368.1 212.73,369.03 213.23,369.94 213.73,370.84 214.23,371.72 214.73,372.57 215.23,373.4 215.73,374.19 216.24,374.94 216.74,375.66 217.24,376.32 217.74,376.93 218.24,377.5 218.74,378 219.24,378.45 219.74,378.83 220.24,379.15 220.74,379.4 221.24,379.59 221.74,379.71 222.24,379.75 222.74,379.74 223.24,379.67 223.74,379.54 224.24,379.35 224.74,379.11 225.25,378.83 225.75,378.49 226.25,378.1 226.75,377.67 227.25,377.2 227.75,376.7 228.25,376.16 228.75,375.59 229.25,375 229.75,374.39 230.25,373.77 230.75,373.13 231.25,372.49 231.75,371.85 232.25,371.22 232.75,370.6 233.25,369.99 233.75,369.41 234.26,368.84 234.76,368.31 235.26,367.81 235.76,367.35 236.26,366.93 236.76,366.55 237.26,366.22 237.76,365.94 238.26,365.72 238.76,365.54 239.26,365.43 239.76,365.36 240.26,365.36 240.76,365.41 241.26,365.52 241.76,365.68 242.26,365.9 242.76,366.17 243.27,366.5 243.77,366.87 244.27,367.3 244.77,367.76 245.27,368.27 245.77,368.82 246.27,369.41 246.77,370.03 247.27,370.68 247.77,371.36 248.27,372.06 248.77,372.77 249.27,373.5 249.77,374.24 250.27,374.98 250.77,375.72 251.27,376.46 251.77,377.19 252.28,377.91 252.78,378.61 253.28,379.3 253.78,379.95 254.28,380.58 254.78,381.18 255.28,381.74 255.78,382.26 256.28,382.74 256.78,383.18 257.28,383.56 257.78,383.9 258.28,384.19 258.78,384.42 259.28,384.6 259.78,384.72 260.28,384.79 260.78,384.8 261.28,384.74 261.28,398.6" fill="#7096C8"/>
<polygon points="180.03,398.6 180.03,388.84 180.53,388.79 181.04,388.65 181.54,388.42 182.05,388.09 182.55,387.67 183.06,387.16 183.56,386.56 184.07,385.89 184.58,385.13 185.08,384.31 185.59,383.41 186.09,382.44 186.6,381.42 187.1,380.34 187.61,379.22 188.11,378.06 188.62,376.86 189.12,375.63 189.63,374.38 190.13,373.12 190.64,371.85 191.15,370.58 191.65,369.32 192.16,368.07 192.66,366.84 193.17,365.64 193.67,364.48 194.18,363.35 194.68,362.28 195.19,361.25 195.69,360.29 196.2,359.39 196.7,358.56 197.21,357.81 197.72,357.13 198.22,356.54 198.73,356.03 199.23,355.61 199.74,355.28 200.24,355.04 200.75,354.9 201.25,354.86 201.25,398.6" fill="#7BA0F5"/>
<polygon points="222.35,398.6 222.35,379.76 222.85,379.73 223.36,379.64 223.87,379.5 224.37,379.3 224.88,379.04 225.38,378.74 225.89,378.38 226.4,377.98 226.9,377.53 227.41,377.04 227.91,376.52 228.42,375.97 228.93,375.39 229.43,374.78 229.94,374.16 230.44,373.52 230.95,372.88 231.46,372.23 231.96,371.59 232.47,370.95 232.97,370.33 233.48,369.72 233.99,369.14 234.49,368.59 235,368.07 235.5,367.58 236.01,367.13 236.52,366.73 237.02,366.37 237.53,366.07 238.03,365.81 238.54,365.61 239.05,365.47 239.55,365.38 240.06,365.35 240.06,398.6" fill="#7BA0F5"/>
<polygon points="260.62,398.6 260.62,384.8 260.79,384.8 260.95,384.79 261.12,384.77 261.28,384.74 261.28,398.6" fill="#7BA0F5"/>
</g>
<text class="yl" x="249.34" y="362.52" text-anchor="middle">6</text>
<text class="yl" x="249.34" y="382.71" text-anchor="middle">3</text>
<text class="yl" x="249.34" y="402.9" text-anchor="middle">0</text>
<text class="xl" x="201.19" y="416.7" text-anchor="middle">6a</text>
<text class="xl" x="221.09" y="416.7" text-anchor="middle">12</text>
<text class="xl" x="240.99" y="416.7" text-anchor="middle">6p</text>
<text class="dn" x="242.44" y="351.5">22</text>
<clipPath id="c23"><rect x="261.26" y="337.9" width="79.6" height="78.7"/></clipPath>
<g clip-path="url(#c23)">
<rect x="285.5" y="337.9" width="31.71" height="60.7" fill="#F9EA7E"/>
<path d="M281.16 337.9V414.6M301.06 337.9V414.6M320.96 337.9V414.6M261.26 378.41H340.86M261.26 358.22H340.86" stroke="#DCDCE4" stroke-width="1" fill="none" opacity="0.65"/>
<polygon points="260.27,398.6 260.27,384.6 260.77,384.73 261.27,384.79 261.77,384.8 262.27,384.73 262.77,384.59 263.27,384.38 263.77,384.08 264.27,383.72 264.77,383.28 265.27,382.78 265.77,382.21 266.27,381.57 266.77,380.88 267.27,380.13 267.77,379.32 268.27,378.46 268.77,377.57 269.27,376.62 269.78,375.65 270.28,374.64 270.78,373.61 271.28,372.56 271.78,371.49 272.28,370.41 272.78,369.33 273.28,368.25 273.78,367.17 274.28,366.11 274.78,365.06 275.28,364.03 275.78,363.04 276.28,362.07 276.78,361.14 277.28,360.26 277.78,359.41 278.28,358.63 278.79,357.89 279.29,357.21 279.79,356.6 280.29,356.05 280.79,355.56 281.29,355.15 281.79,354.8 282.29,354.54 282.79,354.34 283.29,354.22 283.79,354.18 284.29,354.22 284.79,354.33 285.29,354.51 285.79,354.77 286.29,355.1 286.79,355.5 287.29,355.97 287.8,356.51 288.3,357.11 288.8,357.77 289.3,358.49 289.8,359.26 290.3,360.09 290.8,360.95 291.3,361.86 291.8,362.81 292.3,363.79 292.8,364.79 293.3,365.82 293.8,366.86 294.3,367.91 294.8,368.97 295.3,370.03 295.8,371.09 296.3,372.14 296.81,373.17 297.31,374.17 297.81,375.16 298.31,376.11 298.81,377.03 299.31,377.91 299.81,378.74 300.31,379.52 300.81,380.25 301.31,380.93 301.81,381.54 302.31,382.09 302.81,382.58 303.31,383 303.81,383.34 304.31,383.62 304.81,383.82 305.31,383.94 305.82,383.99 306.32,383.98 306.82,383.89 307.32,383.75 307.82,383.55 308.32,383.3 308.82,382.98 309.32,382.62 309.82,382.2 310.32,381.73 310.82,381.22 311.32,380.67 311.82,380.08 312.32,379.46 312.82,378.8 313.32,378.13 313.82,377.43 314.32,376.72 314.83,376 315.33,375.28 315.83,374.56 316.33,373.84 316.83,373.13 317.33,372.44 317.83,371.77 318.33,371.13 318.83,370.52 319.33,369.94 319.83,369.39 320.33,368.9 320.83,368.44 321.33,368.04 321.83,367.69 322.33,367.39 322.83,367.15 323.33,366.96 323.84,366.84 324.34,366.78 324.84,366.77 325.34,366.82 325.84,366.92 326.34,367.07 326.84,367.27 327.34,367.51 327.84,367.8 328.34,368.14 328.84,368.52 329.34,368.93 329.84,369.38 330.34,369.87 330.84,370.38 331.34,370.92 331.84,371.48 332.34,372.06 332.85,372.66 333.35,373.26 333.85,373.87 334.35,374.49 334.85,375.1 335.35,375.7 335.85,376.29 336.35,376.87 336.85,377.43 337.35,377.97 337.85,378.48 338.35,378.96 338.85,379.4 339.35,379.81 339.85,380.18 340.35,380.51 340.85,380.8 341.35,381.04 341.85,381.23 341.85,398.6" fill="#7096C8"/>
<polygon points="261.59,398.6 261.59,384.8 262.1,384.76 262.6,384.65 263.11,384.45 263.61,384.18 264.12,383.84 264.62,383.42 265.13,382.93 265.63,382.37 266.14,381.75 266.64,381.06 267.15,380.32 267.65,379.52 268.16,378.67 268.66,377.77 269.17,376.83 269.67,375.85 270.18,374.84 270.68,373.81 271.19,372.75 271.69,371.67 272.2,370.59 272.7,369.49 273.21,368.4 273.71,367.31 274.22,366.24 274.72,365.18 275.23,364.14 275.73,363.13 276.24,362.16 276.74,361.22 277.25,360.32 277.75,359.47 278.26,358.67 278.76,357.92 279.27,357.24 279.77,356.61 280.28,356.05 280.78,355.57 281.29,355.15 281.79,354.8 282.3,354.53 282.8,354.34 283.31,354.22 283.81,354.18 283.81,398.6" fill="#7BA0F5"/>
<polygon points="305.9,398.6 305.9,384 306.41,383.96 306.91,383.87 307.42,383.72 307.92,383.5 308.43,383.23 308.94,382.9 309.44,382.52 309.95,382.08 310.45,381.6 310.96,381.07 311.46,380.5 311.97,379.9 312.47,379.26 312.98,378.59 313.49,377.9 313.99,377.2 314.5,376.48 315,375.75 315.51,375.02 316.01,374.29 316.52,373.57 317.02,372.86 317.53,372.17 318.04,371.5 318.54,370.86 319.05,370.26 319.55,369.69 320.06,369.16 320.56,368.68 321.07,368.24 321.57,367.86 322.08,367.53 322.59,367.26 323.09,367.05 323.6,366.89 324.1,366.8 324.61,366.77 324.61,398.6" fill="#7BA0F5"/>
</g>
<text class="yl" x="329.91" y="362.52" text-anchor="middle">6</text>
<text class="yl" x="329.91" y="382.71" text-anchor="middle">3</text>
<text class="yl" x="329.91" y="402.9" text-anchor="middle">0</text>
<text class="xl" x="281.76" y="416.7" text-anchor="middle">6a</text>
<text class="xl" x="301.66" y="416.7" text-anchor="middle">12</text>
<text class="xl" x="321.56" y="416.7" text-anchor="middle">6p</text>
<text class="dn" x="323.01" y="351.5">23</text>
<clipPath id="c24"><rect x="341.83" y="337.9" width="79.6" height="78.7"/></clipPath>
<g clip-path="url(#c24)">
<rect x="366.09" y="337.9" width="31.69" height="60.7" fill="#F9EA7E"/>
<path d="M361.73 337.9V414.6M381.63 337.9V414.6M401.53 337.9V414.6M341.83 378.41H421.43M341.83 358.22H421.43" stroke="#DCDCE4" stroke-width="1" fill="none" opacity="0.65"/>
<polygon points="340.84,398.6 340.84,380.19 341.34,380.52 341.84,380.8 342.34,381.04 342.84,381.23 343.34,381.37 343.84,381.46 344.34,381.5 344.84,381.49 345.34,381.41 345.84,381.26 346.34,381.04 346.84,380.76 347.34,380.42 347.84,380.01 348.34,379.55 348.84,379.02 349.34,378.44 349.84,377.81 350.35,377.12 350.85,376.4 351.35,375.62 351.85,374.81 352.35,373.96 352.85,373.08 353.35,372.18 353.85,371.25 354.35,370.3 354.85,369.34 355.35,368.36 355.85,367.39 356.35,366.41 356.85,365.44 357.35,364.47 357.85,363.52 358.35,362.59 358.85,361.68 359.36,360.8 359.86,359.95 360.36,359.13 360.86,358.36 361.36,357.62 361.86,356.94 362.36,356.3 362.86,355.71 363.36,355.18 363.86,354.71 364.36,354.3 364.86,353.95 365.36,353.66 365.86,353.44 366.36,353.28 366.86,353.19 367.36,353.17 367.86,353.23 368.37,353.37 368.87,353.58 369.37,353.88 369.87,354.25 370.37,354.7 370.87,355.22 371.37,355.81 371.87,356.47 372.37,357.19 372.87,357.98 373.37,358.82 373.87,359.72 374.37,360.67 374.87,361.66 375.37,362.7 375.87,363.77 376.37,364.87 376.87,365.99 377.38,367.13 377.88,368.29 378.38,369.46 378.88,370.63 379.38,371.8 379.88,372.96 380.38,374.11 380.88,375.24 381.38,376.34 381.88,377.42 382.38,378.46 382.88,379.46 383.38,380.42 383.88,381.33 384.38,382.18 384.88,382.98 385.38,383.72 385.88,384.39 386.39,385 386.89,385.53 387.39,386 387.89,386.39 388.39,386.7 388.89,386.93 389.39,387.08 389.89,387.15 390.39,387.15 390.89,387.08 391.39,386.94 391.89,386.75 392.39,386.49 392.89,386.17 393.39,385.79 393.89,385.36 394.39,384.88 394.89,384.34 395.4,383.76 395.9,383.14 396.4,382.47 396.9,381.77 397.4,381.04 397.9,380.28 398.4,379.51 398.9,378.71 399.4,377.9 399.9,377.09 400.4,376.27 400.9,375.46 401.4,374.65 401.9,373.85 402.4,373.08 402.9,372.32 403.4,371.6 403.9,370.9 404.41,370.24 404.91,369.62 405.41,369.05 405.91,368.52 406.41,368.04 406.91,367.61 407.41,367.24 407.91,366.93 408.41,366.68 408.91,366.49 409.41,366.37 409.91,366.3 410.41,366.3 410.91,366.36 411.41,366.46 411.91,366.62 412.41,366.82 412.91,367.08 413.42,367.37 413.92,367.72 414.42,368.1 414.92,368.52 415.42,368.97 415.92,369.45 416.42,369.95 416.92,370.48 417.42,371.02 417.92,371.57 418.42,372.13 418.92,372.69 419.42,373.24 419.92,373.79 420.42,374.33 420.92,374.84 421.42,375.34 421.92,375.81 422.42,376.24 422.42,398.6" fill="#7096C8"/>
<polygon points="344.48,398.6 344.48,381.51 344.99,381.47 345.5,381.37 346,381.2 346.51,380.96 347.02,380.65 347.52,380.28 348.03,379.85 348.53,379.35 349.04,378.8 349.55,378.19 350.05,377.53 350.56,376.82 351.07,376.06 351.57,375.26 352.08,374.42 352.58,373.55 353.09,372.65 353.6,371.72 354.1,370.77 354.61,369.8 355.12,368.82 355.62,367.83 356.13,366.84 356.64,365.86 357.14,364.88 357.65,363.91 358.15,362.96 358.66,362.03 359.17,361.13 359.67,360.26 360.18,359.42 360.69,358.62 361.19,357.86 361.7,357.15 362.21,356.49 362.71,355.88 363.22,355.33 363.72,354.83 364.23,354.4 364.74,354.03 365.24,353.72 365.75,353.48 366.26,353.31 366.76,353.21 367.27,353.17 367.27,398.6" fill="#7BA0F5"/>
<polygon points="390.09,398.6 390.09,387.16 390.59,387.13 391.09,387.03 391.59,386.87 392.09,386.65 392.6,386.36 393.1,386.02 393.6,385.62 394.1,385.17 394.6,384.66 395.1,384.1 395.61,383.5 396.11,382.86 396.61,382.18 397.11,381.46 397.61,380.72 398.11,379.95 398.62,379.16 399.12,378.36 399.62,377.55 400.12,376.73 400.62,375.91 401.12,375.1 401.63,374.29 402.13,373.5 402.63,372.74 403.13,371.99 403.63,371.28 404.13,370.6 404.64,369.95 405.14,369.35 405.64,368.8 406.14,368.29 406.64,367.83 407.14,367.43 407.65,367.09 408.15,366.81 408.65,366.58 409.15,366.42 409.65,366.33 410.15,366.3 410.15,398.6" fill="#7BA0F5"/>
</g>
<text class="yl" x="410.48" y="362.52" text-anchor="middle">6</text>
<text class="yl" x="410.48" y="382.71" text-anchor="middle">3</text>
<text class="yl" x="410.48" y="402.9" text-anchor="middle">0</text>
<text class="xl" x="362.33" y="416.7" text-anchor="middle">6a</text>
<text class="xl" x="382.23" y="416.7" text-anchor="middle">12</text>
<text class="xl" x="402.13" y="416.7" text-anchor="middle">6p</text>
<text class="dn" x="403.58" y="351.5">24</text>
<clipPath id="c25"><rect x="422.4" y="337.9" width="79.6" height="78.7"/></clipPath>
<g clip-path="url(#c25)">
<rect x="446.69" y="337.9" width="31.66" height="60.7" fill="#F9EA7E"/>
<path d="M442.3 337.9V414.6M462.2 337.9V414.6M482.1 337.9V414.6M422.4 378.41H502M422.4 358.22H502" stroke="#DCDCE4" stroke-width="1" fill="none" opacity="0.65"/>
<polygon points="421.41,398.6 421.41,374.34 421.91,374.86 422.41,375.35 422.91,375.82 423.41,376.25 423.91,376.66 424.41,377.02 424.91,377.34 425.41,377.62 425.91,377.85 426.41,378.03 426.91,378.17 427.41,378.25 427.91,378.28 428.41,378.24 428.91,378.14 429.41,377.96 429.91,377.71 430.41,377.39 430.92,377.01 431.42,376.56 431.92,376.04 432.42,375.47 432.92,374.83 433.42,374.14 433.92,373.41 434.42,372.62 434.92,371.8 435.42,370.93 435.92,370.04 436.42,369.11 436.92,368.16 437.42,367.2 437.92,366.22 438.42,365.23 438.92,364.25 439.42,363.26 439.93,362.29 440.43,361.33 440.93,360.39 441.43,359.47 441.93,358.58 442.43,357.73 442.93,356.91 443.43,356.14 443.93,355.42 444.43,354.75 444.93,354.13 445.43,353.57 445.93,353.07 446.43,352.64 446.93,352.27 447.43,351.97 447.93,351.75 448.43,351.59 448.94,351.51 449.44,351.5 449.94,351.57 450.44,351.74 450.94,352 451.44,352.35 451.94,352.78 452.44,353.3 452.94,353.9 453.44,354.59 453.94,355.35 454.44,356.18 454.94,357.08 455.44,358.05 455.94,359.08 456.44,360.17 456.94,361.31 457.44,362.5 457.95,363.72 458.45,364.98 458.95,366.28 459.45,367.59 459.95,368.92 460.45,370.27 460.95,371.61 461.45,372.96 461.95,374.3 462.45,375.63 462.95,376.94 463.45,378.22 463.95,379.47 464.45,380.69 464.95,381.86 465.45,382.98 465.95,384.05 466.45,385.07 466.96,386.02 467.46,386.9 467.96,387.71 468.46,388.45 468.96,389.11 469.46,389.69 469.96,390.18 470.46,390.59 470.96,390.91 471.46,391.14 471.96,391.28 472.46,391.33 472.96,391.3 473.46,391.2 473.96,391.03 474.46,390.8 474.96,390.5 475.46,390.14 475.97,389.72 476.47,389.23 476.97,388.69 477.47,388.1 477.97,387.45 478.47,386.76 478.97,386.02 479.47,385.24 479.97,384.42 480.47,383.57 480.97,382.69 481.47,381.79 481.97,380.88 482.47,379.94 482.97,379 483.47,378.05 483.97,377.11 484.47,376.16 484.98,375.23 485.48,374.32 485.98,373.42 486.48,372.55 486.98,371.71 487.48,370.9 487.98,370.12 488.48,369.39 488.98,368.71 489.48,368.07 489.98,367.48 490.48,366.95 490.98,366.48 491.48,366.07 491.98,365.72 492.48,365.43 492.98,365.21 493.48,365.06 493.99,364.97 494.49,364.95 494.99,364.99 495.49,365.1 495.99,365.26 496.49,365.47 496.99,365.74 497.49,366.06 497.99,366.43 498.49,366.84 498.99,367.3 499.49,367.78 499.99,368.3 500.49,368.84 500.99,369.41 501.49,369.98 501.99,370.57 502.49,371.16 502.99,371.74 502.99,398.6" fill="#7096C8"/>
<polygon points="427.94,398.6 427.94,378.28 428.45,378.24 428.95,378.13 429.46,377.94 429.97,377.68 430.48,377.35 430.99,376.95 431.49,376.48 432,375.95 432.51,375.35 433.02,374.7 433.52,373.99 434.03,373.23 434.54,372.43 435.05,371.58 435.56,370.69 436.06,369.78 436.57,368.83 437.08,367.86 437.59,366.88 438.09,365.88 438.6,364.88 439.11,363.88 439.62,362.89 440.13,361.9 440.63,360.94 441.14,359.99 441.65,359.07 442.16,358.19 442.66,357.34 443.17,356.53 443.68,355.77 444.19,355.07 444.7,354.41 445.2,353.82 445.71,353.28 446.22,352.82 446.73,352.42 447.23,352.09 447.74,351.83 448.25,351.64 448.76,351.53 449.27,351.49 449.27,398.6" fill="#7BA0F5"/>
<polygon points="472.48,398.6 472.48,391.33 472.99,391.3 473.5,391.19 474.01,391.02 474.52,390.77 475.03,390.46 475.54,390.08 476.05,389.64 476.55,389.14 477.06,388.58 477.57,387.96 478.08,387.3 478.59,386.58 479.1,385.82 479.61,385.01 480.12,384.17 480.63,383.3 481.14,382.4 481.64,381.48 482.15,380.54 482.66,379.58 483.17,378.62 483.68,377.66 484.19,376.7 484.7,375.74 485.21,374.8 485.72,373.88 486.23,372.98 486.74,372.11 487.24,371.27 487.75,370.47 488.26,369.7 488.77,368.99 489.28,368.32 489.79,367.7 490.3,367.14 490.81,366.64 491.32,366.2 491.83,365.82 492.34,365.51 492.84,365.27 493.35,365.09 493.86,364.99 494.37,364.95 494.37,398.6" fill="#7BA0F5"/>
</g>
<text class="yl" x="491.05" y="362.52" text-anchor="middle">6</text>
<text class="yl" x="491.05" y="382.71" text-anchor="middle">3</text>
<text class="yl" x="491.05" y="402.9" text-anchor="middle">0</text>
<text class="xl" x="442.9" y="416.7" text-anchor="middle">6a</text>
<text class="xl" x="462.8" y="416.7" text-anchor="middle">12</text>
<text class="xl" x="482.7" y="416.7" text-anchor="middle">6p</text>
<text class="dn" x="484.15" y="351.5">25</text>
<clipPath id="c26"><rect x="502.97" y="337.9" width="79.6" height="78.7"/></clipPath>
<g clip-path="url(#c26)">
<rect x="527.29" y="337.9" width="31.63" height="60.7" fill="#F9EA7E"/>
<path d="M522.87 337.9V414.6M542.77 337.9V414.6M562.67 337.9V414.6M502.97 378.41H582.57M502.97 358.22H582.57" stroke="#DCDCE4" stroke-width="1" fill="none" opacity="0.65"/>
<polygon points="501.98,398.6 501.98,369.42 502.48,370 502.98,370.58 503.48,371.17 503.98,371.75 504.48,372.33 504.98,372.88 505.48,373.42 505.98,373.93 506.48,374.4 506.98,374.84 507.48,375.24 507.98,375.6 508.48,375.9 508.98,376.15 509.48,376.35 509.98,376.49 510.48,376.57 510.98,376.59 511.49,376.55 511.99,376.42 512.49,376.22 512.99,375.95 513.49,375.6 513.99,375.19 514.49,374.7 514.99,374.15 515.49,373.54 515.99,372.86 516.49,372.13 516.99,371.36 517.49,370.53 517.99,369.67 518.49,368.76 518.99,367.83 519.49,366.87 519.99,365.89 520.5,364.9 521,363.9 521.5,362.9 522,361.9 522.5,360.91 523,359.93 523.5,358.98 524,358.05 524.5,357.15 525,356.29 525.5,355.47 526,354.7 526.5,353.98 527,353.32 527.5,352.71 528,352.17 528.5,351.69 529,351.28 529.51,350.95 530.01,350.68 530.51,350.49 531.01,350.38 531.51,350.35 532.01,350.39 532.51,350.53 533.01,350.76 533.51,351.08 534.01,351.49 534.51,351.98 535.01,352.56 535.51,353.22 536.01,353.96 536.51,354.78 537.01,355.67 537.51,356.63 538.01,357.66 538.52,358.74 539.02,359.88 539.52,361.08 540.02,362.32 540.52,363.61 541.02,364.93 541.52,366.28 542.02,367.66 542.52,369.06 543.02,370.47 543.52,371.89 544.02,373.32 544.52,374.74 545.02,376.15 545.52,377.55 546.02,378.93 546.52,380.28 547.02,381.6 547.53,382.89 548.03,384.13 548.53,385.32 549.03,386.46 549.53,387.55 550.03,388.57 550.53,389.53 551.03,390.42 551.53,391.23 552.03,391.97 552.53,392.63 553.03,393.21 553.53,393.7 554.03,394.1 554.53,394.42 555.03,394.65 555.53,394.79 556.03,394.83 556.54,394.79 557.04,394.66 557.54,394.45 558.04,394.15 558.54,393.77 559.04,393.31 559.54,392.78 560.04,392.17 560.54,391.48 561.04,390.73 561.54,389.92 562.04,389.04 562.54,388.12 563.04,387.14 563.54,386.11 564.04,385.05 564.54,383.95 565.04,382.83 565.55,381.68 566.05,380.52 566.55,379.35 567.05,378.17 567.55,377 568.05,375.83 568.55,374.69 569.05,373.56 569.55,372.46 570.05,371.39 570.55,370.37 571.05,369.38 571.55,368.45 572.05,367.57 572.55,366.75 573.05,366 573.55,365.31 574.05,364.69 574.56,364.15 575.06,363.69 575.56,363.3 576.06,363 576.56,362.78 577.06,362.64 577.56,362.59 578.06,362.62 578.56,362.71 579.06,362.86 579.56,363.07 580.06,363.34 580.56,363.66 581.06,364.04 581.56,364.46 582.06,364.93 582.56,365.43 583.06,365.97 583.56,366.54 583.56,398.6" fill="#7096C8"/>
<polygon points="510.93,398.6 510.93,376.59 511.43,376.55 511.93,376.44 512.43,376.25 512.94,375.98 513.44,375.64 513.94,375.23 514.44,374.75 514.94,374.2 515.44,373.59 515.95,372.93 516.45,372.2 516.95,371.43 517.45,370.6 517.95,369.74 518.45,368.84 518.95,367.91 519.46,366.95 519.96,365.97 520.46,364.97 520.96,363.97 521.46,362.97 521.96,361.96 522.47,360.97 522.97,359.99 523.47,359.03 523.97,358.1 524.47,357.2 524.97,356.34 525.47,355.51 525.98,354.74 526.48,354.01 526.98,353.34 527.48,352.74 527.98,352.19 528.48,351.71 528.99,351.3 529.49,350.96 529.99,350.69 530.49,350.5 530.99,350.38 531.49,350.35 531.49,398.6" fill="#7BA0F5"/>
<polygon points="556.04,398.6 556.04,394.83 556.54,394.79 557.04,394.66 557.54,394.45 558.04,394.15 558.54,393.77 559.04,393.31 559.55,392.77 560.05,392.16 560.55,391.47 561.05,390.72 561.55,389.9 562.05,389.02 562.55,388.09 563.06,387.11 563.56,386.08 564.06,385.02 564.56,383.92 565.06,382.79 565.56,381.64 566.06,380.48 566.57,379.3 567.07,378.12 567.57,376.95 568.07,375.79 568.57,374.64 569.07,373.51 569.57,372.41 570.07,371.34 570.58,370.32 571.08,369.33 571.58,368.4 572.08,367.53 572.58,366.71 573.08,365.96 573.58,365.27 574.09,364.66 574.59,364.12 575.09,363.66 575.59,363.28 576.09,362.98 576.59,362.77 577.09,362.64 577.6,362.59 577.6,398.6" fill="#7BA0F5"/>
</g>
<text class="yl" x="571.62" y="362.52" text-anchor="middle">6</text>
<text class="yl" x="571.62" y="382.71" text-anchor="middle">3</text>
<text class="yl" x="571.62" y="402.9" text-anchor="middle">0</text>
<text class="xl" x="523.47" y="416.7" text-anchor="middle">6a</text>
<text class="xl" x="543.37" y="416.7" text-anchor="middle">12</text>
<text class="xl" x="563.27" y="416.7" text-anchor="middle">6p</text>
<text class="dn" x="564.72" y="351.5">26</text>
<clipPath id="c27"><rect x="19.55" y="421.9" width="79.6" height="77.8"/></clipPath>
<g clip-path="url(#c27)">
<rect x="43.89" y="421.9" width="31.61" height="59.8" fill="#F9EA7E"/>
<path d="M39.45 421.9V497.7M59.35 421.9V497.7M79.25 421.9V497.7M19.55 461.51H99.15M19.55 441.32H99.15" stroke="#DCDCE4" stroke-width="1" fill="none" opacity="0.65"/>
<polygon points="18.56,481.7 18.56,447.57 19.06,448.04 19.56,448.55 20.06,449.09 20.56,449.65 21.06,450.24 21.56,450.85 22.06,451.47 22.56,452.09 23.06,452.71 23.56,453.32 24.06,453.91 24.56,454.49 25.06,455.03 25.56,455.55 26.06,456.03 26.56,456.46 27.06,456.85 27.56,457.19 28.07,457.47 28.57,457.69 29.07,457.86 29.57,457.97 30.07,458.01 30.57,457.99 31.07,457.88 31.57,457.71 32.07,457.46 32.57,457.13 33.07,456.74 33.57,456.27 34.07,455.74 34.57,455.14 35.07,454.49 35.57,453.78 36.07,453.02 36.57,452.21 37.08,451.36 37.58,450.47 38.08,449.56 38.58,448.61 39.08,447.65 39.58,446.67 40.08,445.69 40.58,444.7 41.08,443.71 41.58,442.74 42.08,441.78 42.58,440.84 43.08,439.93 43.58,439.05 44.08,438.21 44.58,437.41 45.08,436.66 45.58,435.96 46.09,435.31 46.59,434.73 47.09,434.21 47.59,433.76 48.09,433.38 48.59,433.07 49.09,432.83 49.59,432.67 50.09,432.59 50.59,432.58 51.09,432.67 51.59,432.86 52.09,433.15 52.59,433.53 53.09,434.02 53.59,434.59 54.09,435.26 54.59,436.02 55.1,436.87 55.6,437.8 56.1,438.8 56.6,439.89 57.1,441.04 57.6,442.25 58.1,443.53 58.6,444.86 59.1,446.24 59.6,447.67 60.1,449.13 60.6,450.63 61.1,452.15 61.6,453.68 62.1,455.24 62.6,456.79 63.1,458.35 63.6,459.9 64.11,461.44 64.61,462.96 65.11,464.45 65.61,465.91 66.11,467.33 66.61,468.71 67.11,470.04 67.61,471.31 68.11,472.52 68.61,473.67 69.11,474.74 69.61,475.74 70.11,476.66 70.61,477.5 71.11,478.25 71.61,478.92 72.11,479.49 72.61,479.96 73.12,480.34 73.62,480.62 74.12,480.81 74.62,480.89 75.12,480.87 75.62,480.75 76.12,480.54 76.62,480.23 77.12,479.83 77.62,479.33 78.12,478.75 78.62,478.08 79.12,477.32 79.62,476.49 80.12,475.59 80.62,474.61 81.12,473.57 81.62,472.47 82.13,471.33 82.63,470.13 83.13,468.89 83.63,467.63 84.13,466.33 84.63,465.02 85.13,463.69 85.63,462.36 86.13,461.03 86.63,459.72 87.13,458.41 87.63,457.14 88.13,455.89 88.63,454.68 89.13,453.51 89.63,452.39 90.13,451.33 90.63,450.33 91.14,449.4 91.64,448.54 92.14,447.76 92.64,447.06 93.14,446.45 93.64,445.92 94.14,445.48 94.64,445.14 95.14,444.89 95.64,444.74 96.14,444.69 96.64,444.72 97.14,444.82 97.64,444.98 98.14,445.21 98.64,445.51 99.14,445.86 99.64,446.27 100.14,446.74 100.14,481.7" fill="#7096C8"/>
<polygon points="30.16,481.7 30.16,458.01 30.67,457.97 31.17,457.85 31.68,457.66 32.19,457.39 32.69,457.04 33.2,456.62 33.7,456.14 34.21,455.58 34.72,454.96 35.22,454.28 35.73,453.55 36.23,452.77 36.74,451.94 37.24,451.07 37.75,450.16 38.26,449.22 38.76,448.26 39.27,447.28 39.77,446.29 40.28,445.29 40.78,444.29 41.29,443.3 41.8,442.32 42.3,441.36 42.81,440.42 43.31,439.52 43.82,438.64 44.33,437.81 44.83,437.03 45.34,436.3 45.84,435.62 46.35,435 46.85,434.45 47.36,433.96 47.87,433.54 48.37,433.19 48.88,432.92 49.38,432.73 49.89,432.61 50.39,432.57 50.39,481.7" fill="#7BA0F5"/>
<polygon points="74.77,481.7 74.77,480.89 75.28,480.84 75.79,480.69 76.3,480.44 76.81,480.09 77.32,479.64 77.83,479.1 78.34,478.47 78.85,477.75 79.36,476.94 79.87,476.06 80.38,475.1 80.88,474.08 81.39,472.99 81.9,471.84 82.41,470.64 82.92,469.4 83.43,468.12 83.94,466.82 84.45,465.49 84.96,464.14 85.47,462.79 85.98,461.44 86.49,460.09 87,458.76 87.51,457.45 88.02,456.17 88.52,454.93 89.03,453.74 89.54,452.59 90.05,451.5 90.56,450.48 91.07,449.52 91.58,448.63 92.09,447.83 92.6,447.11 93.11,446.48 93.62,445.94 94.13,445.49 94.64,445.14 95.15,444.89 95.66,444.74 96.17,444.69 96.17,481.7" fill="#7BA0F5"/>
</g>
<text class="yl" x="88.2" y="445.62" text-anchor="middle">6</text>
<text class="yl" x="88.2" y="465.81" text-anchor="middle">3</text>
<text class="yl" x="88.2" y="486" text-anchor="middle">0</text>
<text class="xl" x="40.05" y="499.8" text-anchor="middle">6a</text>
<text class="xl" x="59.95" y="499.8" text-anchor="middle">12</text>
<text class="xl" x="79.85" y="499.8" text-anchor="middle">6p</text>
<text class="dn" x="81.3" y="434.6">27</text>
<clipPath id="c28"><rect x="100.12" y="421.9" width="79.6" height="77.8"/></clipPath>
<g clip-path="url(#c28)">
<rect x="124.49" y="421.9" width="31.58" height="59.8" fill="#F9EA7E"/>
<path d="M120.02 421.9V497.7M139.92 421.9V497.7M159.82 421.9V497.7M100.12 461.51H179.72M100.12 441.32H179.72" stroke="#DCDCE4" stroke-width="1" fill="none" opacity="0.65"/>
<polygon points="99.13,481.7 99.13,445.22 99.63,445.52 100.13,445.87 100.63,446.28 101.13,446.75 101.63,447.26 102.13,447.81 102.63,448.4 103.13,449.01 103.63,449.65 104.13,450.31 104.63,450.97 105.13,451.64 105.63,452.3 106.13,452.94 106.63,453.57 107.13,454.18 107.63,454.75 108.13,455.28 108.64,455.77 109.14,456.21 109.64,456.59 110.14,456.92 110.64,457.19 111.14,457.39 111.64,457.53 112.14,457.6 112.64,457.6 113.14,457.52 113.64,457.36 114.14,457.13 114.64,456.82 115.14,456.44 115.64,455.98 116.14,455.46 116.64,454.87 117.14,454.22 117.65,453.51 118.15,452.75 118.65,451.94 119.15,451.08 119.65,450.19 120.15,449.26 120.65,448.31 121.15,447.33 121.65,446.34 122.15,445.34 122.65,444.33 123.15,443.33 123.65,442.33 124.15,441.35 124.65,440.4 125.15,439.46 125.65,438.56 126.15,437.7 126.66,436.88 127.16,436.11 127.66,435.4 128.16,434.74 128.66,434.14 129.16,433.6 129.66,433.14 130.16,432.74 130.66,432.42 131.16,432.17 131.66,432.01 132.16,431.92 132.66,431.91 133.16,432.01 133.66,432.23 134.16,432.57 134.66,433.02 135.16,433.59 135.67,434.28 136.17,435.07 136.67,435.97 137.17,436.97 137.67,438.06 138.17,439.25 138.67,440.52 139.17,441.87 139.67,443.3 140.17,444.79 140.67,446.34 141.17,447.95 141.67,449.6 142.17,451.29 142.67,453.01 143.17,454.74 143.67,456.5 144.17,458.26 144.68,460.01 145.18,461.76 145.68,463.48 146.18,465.18 146.68,466.84 147.18,468.46 147.68,470.03 148.18,471.54 148.68,472.99 149.18,474.36 149.68,475.66 150.18,476.87 150.68,478 151.18,479.02 151.68,479.95 152.18,480.78 152.68,481.49 153.18,482.1 153.69,482.59 154.19,482.96 154.69,483.22 155.19,483.36 155.69,483.38 156.19,483.29 156.69,483.1 157.19,482.82 157.69,482.43 158.19,481.95 158.69,481.37 159.19,480.71 159.69,479.95 160.19,479.12 160.69,478.2 161.19,477.2 161.69,476.14 162.19,475.01 162.7,473.83 163.2,472.59 163.7,471.3 164.2,469.97 164.7,468.61 165.2,467.22 165.7,465.81 166.2,464.39 166.7,462.96 167.2,461.54 167.7,460.12 168.2,458.71 168.7,457.33 169.2,455.98 169.7,454.67 170.2,453.39 170.7,452.17 171.2,451 171.71,449.89 172.21,448.85 172.71,447.88 173.21,446.99 173.71,446.18 174.21,445.45 174.71,444.82 175.21,444.27 175.71,443.82 176.21,443.47 176.71,443.21 177.21,443.06 177.71,443 178.21,443.03 178.71,443.12 179.21,443.26 179.71,443.46 180.21,443.72 180.71,444.03 180.71,481.7" fill="#7096C8"/>
<polygon points="112.39,481.7 112.39,457.61 112.89,457.57 113.4,457.45 113.9,457.25 114.4,456.98 114.9,456.63 115.41,456.21 115.91,455.71 116.41,455.15 116.91,454.53 117.42,453.84 117.92,453.1 118.42,452.31 118.92,451.47 119.43,450.59 119.93,449.67 120.43,448.72 120.93,447.75 121.44,446.76 121.94,445.76 122.44,444.75 122.94,443.74 123.45,442.74 123.95,441.75 124.45,440.78 124.95,439.83 125.46,438.92 125.96,438.04 126.46,437.2 126.96,436.4 127.47,435.66 127.97,434.98 128.47,434.35 128.97,433.79 129.48,433.3 129.98,432.88 130.48,432.53 130.98,432.25 131.49,432.06 131.99,431.94 132.49,431.9 132.49,481.7" fill="#7BA0F5"/>
<polygon points="155.51,481.7 155.51,483.38 156.01,483.33 156.52,483.18 157.02,482.92 157.53,482.56 158.03,482.11 158.54,481.56 159.04,480.91 159.55,480.18 160.05,479.36 160.56,478.45 161.06,477.47 161.57,476.41 162.07,475.29 162.58,474.11 163.08,472.87 163.59,471.58 164.09,470.25 164.6,468.88 165.1,467.48 165.61,466.07 166.11,464.63 166.62,463.19 167.12,461.75 167.63,460.32 168.13,458.9 168.64,457.5 169.14,456.14 169.65,454.81 170.15,453.52 170.66,452.28 171.16,451.09 171.67,449.97 172.17,448.92 172.68,447.93 173.18,447.03 173.69,446.21 174.19,445.47 174.7,444.83 175.2,444.28 175.71,443.82 176.21,443.46 176.72,443.21 177.22,443.05 177.73,443 177.73,481.7" fill="#7BA0F5"/>
</g>
<text class="yl" x="168.77" y="445.62" text-anchor="middle">6</text>
<text class="yl" x="168.77" y="465.81" text-anchor="middle">3</text>
<text class="yl" x="168.77" y="486" text-anchor="middle">0</text>
<text class="xl" x="120.62" y="499.8" text-anchor="middle">6a</text>
<text class="xl" x="140.52" y="499.8" text-anchor="middle">12</text>
<text class="xl" x="160.42" y="499.8" text-anchor="middle">6p</text>
<text class="dn" x="161.87" y="434.6">28</text>
<clipPath id="c29"><rect x="180.69" y="421.9" width="79.6" height="77.8"/></clipPath>
<g clip-path="url(#c29)">
<rect x="205.09" y="421.9" width="31.55" height="59.8" fill="#F9EA7E"/>
<path d="M200.59 421.9V497.7M220.49 421.9V497.7M240.39 421.9V497.7M180.69 461.51H260.29M180.69 441.32H260.29" stroke="#DCDCE4" stroke-width="1" fill="none" opacity="0.65"/>
<polygon points="179.7,481.7 179.7,443.12 180.2,443.26 180.7,443.47 181.2,443.72 181.7,444.03 182.2,444.4 182.7,444.8 183.2,445.26 183.7,445.75 184.2,446.28 184.7,446.84 185.2,447.43 185.7,448.04 186.2,448.66 186.7,449.3 187.2,449.95 187.7,450.59 188.2,451.24 188.7,451.87 189.21,452.49 189.71,453.09 190.21,453.66 190.71,454.21 191.21,454.72 191.71,455.19 192.21,455.62 192.71,456 193.21,456.34 193.71,456.62 194.21,456.85 194.71,457.02 195.21,457.14 195.71,457.2 196.21,457.19 196.71,457.1 197.21,456.93 197.71,456.67 198.22,456.33 198.72,455.91 199.22,455.42 199.72,454.85 200.22,454.21 200.72,453.5 201.22,452.73 201.72,451.91 202.22,451.03 202.72,450.11 203.22,449.14 203.72,448.15 204.22,447.12 204.72,446.08 205.22,445.02 205.72,443.96 206.22,442.9 206.72,441.84 207.23,440.79 207.73,439.77 208.23,438.77 208.73,437.81 209.23,436.89 209.73,436.01 210.23,435.18 210.73,434.41 211.23,433.7 211.73,433.06 212.23,432.49 212.73,431.99 213.23,431.57 213.73,431.23 214.23,430.97 214.73,430.79 215.23,430.7 215.73,430.7 216.24,430.82 216.74,431.06 217.24,431.43 217.74,431.92 218.24,432.52 218.74,433.25 219.24,434.09 219.74,435.04 220.24,436.1 220.74,437.25 221.24,438.51 221.74,439.85 222.24,441.27 222.74,442.77 223.24,444.35 223.74,445.98 224.24,447.67 224.74,449.41 225.25,451.19 225.75,453 226.25,454.83 226.75,456.68 227.25,458.54 227.75,460.39 228.25,462.23 228.75,464.06 229.25,465.85 229.75,467.61 230.25,469.33 230.75,470.99 231.25,472.6 231.75,474.14 232.25,475.6 232.75,476.98 233.25,478.28 233.75,479.49 234.26,480.6 234.76,481.6 235.26,482.5 235.76,483.28 236.26,483.95 236.76,484.5 237.26,484.93 237.76,485.23 238.26,485.41 238.76,485.47 239.26,485.41 239.76,485.25 240.26,484.98 240.76,484.6 241.26,484.13 241.76,483.56 242.26,482.89 242.76,482.13 243.27,481.28 243.77,480.34 244.27,479.32 244.77,478.23 245.27,477.07 245.77,475.84 246.27,474.55 246.77,473.21 247.27,471.82 247.77,470.4 248.27,468.94 248.77,467.46 249.27,465.96 249.77,464.45 250.27,462.93 250.77,461.42 251.27,459.92 251.77,458.44 252.28,456.98 252.78,455.56 253.28,454.17 253.78,452.84 254.28,451.55 254.78,450.33 255.28,449.17 255.78,448.08 256.28,447.07 256.78,446.13 257.28,445.29 257.78,444.53 258.28,443.87 258.78,443.3 259.28,442.83 259.78,442.47 260.28,442.2 260.78,442.05 261.28,441.99 261.28,481.7" fill="#7096C8"/>
<polygon points="195.95,481.7 195.95,457.2 196.45,457.16 196.95,457.03 197.45,456.82 197.95,456.52 198.46,456.14 198.96,455.68 199.46,455.15 199.96,454.54 200.46,453.87 200.96,453.13 201.47,452.33 201.97,451.48 202.47,450.57 202.97,449.63 203.47,448.65 203.97,447.63 204.48,446.6 204.98,445.54 205.48,444.48 205.98,443.41 206.48,442.35 206.99,441.29 207.49,440.26 207.99,439.24 208.49,438.26 208.99,437.32 209.49,436.41 210,435.56 210.5,434.76 211,434.02 211.5,433.35 212,432.74 212.5,432.21 213.01,431.75 213.51,431.37 214.01,431.07 214.51,430.86 215.01,430.73 215.51,430.69 215.51,481.7" fill="#7BA0F5"/>
<polygon points="238.73,481.7 238.73,485.47 239.23,485.42 239.73,485.26 240.24,484.99 240.74,484.63 241.24,484.16 241.74,483.59 242.24,482.92 242.74,482.17 243.24,481.32 243.74,480.38 244.24,479.37 244.75,478.28 245.25,477.11 245.75,475.89 246.25,474.6 246.75,473.26 247.25,471.87 247.75,470.45 248.25,468.99 248.76,467.51 249.26,466 249.76,464.49 250.26,462.97 250.76,461.46 251.26,459.96 251.76,458.47 252.26,457.01 252.76,455.59 253.27,454.2 253.77,452.86 254.27,451.58 254.77,450.35 255.27,449.19 255.77,448.09 256.27,447.08 256.77,446.14 257.28,445.3 257.78,444.54 258.28,443.87 258.78,443.3 259.28,442.84 259.78,442.47 260.28,442.2 260.78,442.05 261.28,441.99 261.28,481.7" fill="#7BA0F5"/>
</g>
<text class="yl" x="249.34" y="445.62" text-anchor="middle">6</text>
<text class="yl" x="249.34" y="465.81" text-anchor="middle">3</text>
<text class="yl" x="249.34" y="486" text-anchor="middle">0</text>
<text class="xl" x="201.19" y="499.8" text-anchor="middle">6a</text>
<text class="xl" x="221.09" y="499.8" text-anchor="middle">12</text>
<text class="xl" x="240.99" y="499.8" text-anchor="middle">6p</text>
<text class="dn" x="242.44" y="434.6">29</text>
<clipPath id="c30"><rect x="261.26" y="421.9" width="79.6" height="77.8"/></clipPath>
<g clip-path="url(#c30)">
<rect x="285.68" y="421.9" width="31.53" height="59.8" fill="#F9EA7E"/>
<path d="M281.16 421.9V497.7M301.06 421.9V497.7M320.96 421.9V497.7M261.26 461.51H340.86M261.26 441.32H340.86" stroke="#DCDCE4" stroke-width="1" fill="none" opacity="0.65"/>
<polygon points="260.27,481.7 260.27,442.82 260.77,442.46 261.27,442.2 261.77,442.04 262.27,441.99 262.77,442.03 263.27,442.13 263.77,442.3 264.27,442.53 264.77,442.83 265.27,443.19 265.77,443.6 266.27,444.07 266.77,444.58 267.27,445.14 267.77,445.74 268.27,446.38 268.77,447.04 269.27,447.72 269.78,448.43 270.28,449.14 270.78,449.86 271.28,450.57 271.78,451.28 272.28,451.97 272.78,452.64 273.28,453.28 273.78,453.89 274.28,454.46 274.78,454.99 275.28,455.47 275.78,455.9 276.28,456.27 276.78,456.59 277.28,456.84 277.78,457.02 278.28,457.15 278.79,457.2 279.29,457.18 279.79,457.07 280.29,456.86 280.79,456.55 281.29,456.16 281.79,455.68 282.29,455.11 282.79,454.46 283.29,453.73 283.79,452.94 284.29,452.08 284.79,451.15 285.29,450.18 285.79,449.16 286.29,448.1 286.79,447.01 287.29,445.89 287.8,444.76 288.3,443.63 288.8,442.49 289.3,441.36 289.8,440.25 290.3,439.16 290.8,438.1 291.3,437.08 291.8,436.11 292.3,435.2 292.8,434.34 293.3,433.55 293.8,432.83 294.3,432.19 294.8,431.63 295.3,431.15 295.8,430.77 296.3,430.47 296.81,430.27 297.31,430.17 297.81,430.16 298.31,430.26 298.81,430.49 299.31,430.83 299.81,431.28 300.31,431.85 300.81,432.53 301.31,433.32 301.81,434.21 302.31,435.21 302.81,436.3 303.31,437.49 303.81,438.76 304.31,440.11 304.81,441.54 305.31,443.04 305.82,444.61 306.32,446.23 306.82,447.9 307.32,449.61 307.82,451.37 308.32,453.14 308.82,454.95 309.32,456.76 309.82,458.58 310.32,460.4 310.82,462.21 311.32,464 311.82,465.77 312.32,467.5 312.82,469.2 313.32,470.85 313.82,472.44 314.32,473.97 314.83,475.44 315.33,476.84 315.83,478.15 316.33,479.38 316.83,480.52 317.33,481.57 317.83,482.52 318.33,483.36 318.83,484.1 319.33,484.72 319.83,485.24 320.33,485.64 320.83,485.93 321.33,486.09 321.83,486.14 322.33,486.08 322.83,485.9 323.33,485.62 323.84,485.23 324.34,484.73 324.84,484.14 325.34,483.44 325.84,482.64 326.34,481.76 326.84,480.78 327.34,479.72 327.84,478.58 328.34,477.37 328.84,476.1 329.34,474.76 329.84,473.37 330.34,471.93 330.84,470.46 331.34,468.95 331.84,467.41 332.34,465.86 332.85,464.3 333.35,462.73 333.85,461.17 334.35,459.63 334.85,458.1 335.35,456.61 335.85,455.15 336.35,453.73 336.85,452.36 337.35,451.05 337.85,449.81 338.35,448.63 338.85,447.52 339.35,446.5 339.85,445.57 340.35,444.72 340.85,443.97 341.35,443.31 341.85,442.76 341.85,481.7" fill="#7096C8"/>
<polygon points="260.27,481.7 260.27,442.82 260.76,442.46 261.26,442.2 261.76,442.05 262.25,441.99 262.25,481.7" fill="#7BA0F5"/>
<polygon points="278.94,481.7 278.94,457.2 279.44,457.15 279.95,457.01 280.45,456.77 280.96,456.43 281.46,456 281.97,455.49 282.47,454.88 282.98,454.2 283.48,453.44 283.98,452.61 284.49,451.72 284.99,450.77 285.5,449.77 286,448.72 286.51,447.64 287.01,446.53 287.52,445.39 288.02,444.25 288.53,443.1 289.03,441.96 289.54,440.83 290.04,439.71 290.55,438.63 291.05,437.59 291.55,436.58 292.06,435.63 292.56,434.74 293.07,433.91 293.57,433.15 294.08,432.47 294.58,431.87 295.09,431.35 295.59,430.92 296.1,430.58 296.6,430.34 297.11,430.2 297.61,430.15 297.61,481.7" fill="#7BA0F5"/>
<polygon points="321.79,481.7 321.79,486.14 322.29,486.09 322.79,485.92 323.29,485.65 323.8,485.26 324.3,484.78 324.8,484.18 325.3,483.49 325.8,482.7 326.3,481.82 326.81,480.85 327.31,479.79 327.81,478.66 328.31,477.45 328.81,476.17 329.31,474.83 329.82,473.44 330.32,472.01 330.82,470.53 331.32,469.02 331.82,467.48 332.32,465.92 332.83,464.36 333.33,462.79 333.83,461.23 334.33,459.68 334.83,458.15 335.33,456.65 335.84,455.19 336.34,453.76 336.84,452.39 337.34,451.08 337.84,449.83 338.34,448.64 338.85,447.54 339.35,446.51 339.85,445.57 340.35,444.72 340.85,443.97 341.35,443.31 341.85,442.76 341.85,481.7" fill="#7BA0F5"/>
</g>
<text class="yl" x="329.91" y="445.62" text-anchor="middle">6</text>
<text class="yl" x="329.91" y="465.81" text-anchor="middle">3</text>
<text class="yl" x="329.91" y="486" text-anchor="middle">0</text>
<text class="xl" x="281.76" y="499.8" text-anchor="middle">6a</text>
<text class="xl" x="301.66" y="499.8" text-anchor="middle">12</text>
<text class="xl" x="321.56" y="499.8" text-anchor="middle">6p</text>
<text class="dn" x="323.01" y="434.6">30</text>
<clipPath id="c31"><rect x="341.83" y="421.9" width="79.6" height="77.8"/></clipPath>
<g clip-path="url(#c31)">
<rect x="366.28" y="421.9" width="31.5" height="59.8" fill="#F9EA7E"/>
<path d="M361.73 421.9V497.7M381.63 421.9V497.7M401.53 421.9V497.7M341.83 461.51H421.43M341.83 441.32H421.43" stroke="#DCDCE4" stroke-width="1" fill="none" opacity="0.65"/>
<polygon points="340.84,481.7 340.84,445.54 341.34,444.7 341.84,443.95 342.34,443.3 342.84,442.75 343.34,442.3 343.84,441.96 344.34,441.73 344.84,441.61 345.34,441.59 345.84,441.66 346.34,441.79 346.84,441.99 347.34,442.25 347.84,442.59 348.34,442.98 348.84,443.43 349.34,443.93 349.84,444.48 350.35,445.08 350.85,445.71 351.35,446.38 351.85,447.08 352.35,447.79 352.85,448.53 353.35,449.26 353.85,450 354.35,450.74 354.85,451.46 355.35,452.16 355.85,452.84 356.35,453.49 356.85,454.1 357.35,454.67 357.85,455.19 358.35,455.66 358.85,456.07 359.36,456.43 359.86,456.72 360.36,456.94 360.86,457.1 361.36,457.18 361.86,457.2 362.36,457.13 362.86,456.96 363.36,456.7 363.86,456.34 364.36,455.9 364.86,455.37 365.36,454.75 365.86,454.06 366.36,453.3 366.86,452.46 367.36,451.57 367.86,450.62 368.37,449.62 368.87,448.58 369.37,447.5 369.87,446.4 370.37,445.28 370.87,444.15 371.37,443.01 371.87,441.89 372.37,440.77 372.87,439.68 373.37,438.62 373.87,437.59 374.37,436.61 374.87,435.68 375.37,434.81 375.87,434 376.37,433.27 376.87,432.61 377.38,432.03 377.88,431.53 378.38,431.12 378.88,430.81 379.38,430.58 379.88,430.45 380.38,430.42 380.88,430.5 381.38,430.7 381.88,431.03 382.38,431.48 382.88,432.05 383.38,432.73 383.88,433.53 384.38,434.44 384.88,435.46 385.38,436.58 385.88,437.79 386.39,439.1 386.89,440.49 387.39,441.96 387.89,443.5 388.39,445.11 388.89,446.78 389.39,448.5 389.89,450.26 390.39,452.06 390.89,453.88 391.39,455.73 391.89,457.59 392.39,459.45 392.89,461.3 393.39,463.14 393.89,464.96 394.39,466.75 394.89,468.51 395.4,470.21 395.9,471.87 396.4,473.46 396.9,474.98 397.4,476.44 397.9,477.81 398.4,479.09 398.9,480.28 399.4,481.37 399.9,482.36 400.4,483.24 400.9,484.01 401.4,484.67 401.9,485.2 402.4,485.62 402.9,485.92 403.4,486.09 403.9,486.14 404.41,486.08 404.91,485.91 405.41,485.65 405.91,485.28 406.41,484.82 406.91,484.25 407.41,483.6 407.91,482.85 408.41,482.01 408.91,481.09 409.41,480.09 409.91,479.02 410.41,477.88 410.91,476.67 411.41,475.4 411.91,474.08 412.41,472.71 412.91,471.3 413.42,469.85 413.92,468.38 414.42,466.89 414.92,465.38 415.42,463.86 415.92,462.34 416.42,460.83 416.92,459.34 417.42,457.86 417.92,456.41 418.42,454.99 418.92,453.61 419.42,452.28 419.92,451.01 420.42,449.79 420.92,448.63 421.42,447.55 421.92,446.53 422.42,445.6 422.42,481.7" fill="#7096C8"/>
<polygon points="340.84,481.7 340.84,445.54 341.37,444.64 341.91,443.84 342.45,443.16 342.99,442.6 343.53,442.16 344.07,441.84 344.61,441.65 345.15,441.59 345.15,481.7" fill="#7BA0F5"/>
<polygon points="361.73,481.7 361.73,457.2 362.23,457.15 362.73,457.01 363.24,456.77 363.74,456.44 364.24,456.01 364.74,455.5 365.24,454.91 365.75,454.23 366.25,453.48 366.75,452.66 367.25,451.77 367.75,450.83 368.26,449.84 368.76,448.8 369.26,447.73 369.76,446.63 370.26,445.51 370.77,444.38 371.27,443.24 371.77,442.11 372.27,440.99 372.77,439.89 373.28,438.82 373.78,437.78 374.28,436.79 374.78,435.85 375.28,434.96 375.79,434.14 376.29,433.39 376.79,432.71 377.29,432.12 377.79,431.61 378.3,431.18 378.8,430.85 379.3,430.61 379.8,430.47 380.3,430.42 380.3,481.7" fill="#7BA0F5"/>
<polygon points="403.85,481.7 403.85,486.14 404.35,486.09 404.86,485.94 405.36,485.68 405.86,485.32 406.36,484.86 406.86,484.31 407.37,483.66 407.87,482.91 408.37,482.08 408.87,481.17 409.37,480.17 409.88,479.1 410.38,477.96 410.88,476.75 411.38,475.48 411.88,474.16 412.39,472.79 412.89,471.38 413.39,469.93 413.89,468.45 414.39,466.95 414.9,465.44 415.4,463.92 415.9,462.4 416.4,460.88 416.9,459.38 417.41,457.9 417.91,456.44 418.41,455.02 418.91,453.64 419.41,452.31 419.92,451.02 420.42,449.8 420.92,448.64 421.42,447.55 421.92,446.54 422.42,445.6 422.42,481.7" fill="#7BA0F5"/>
</g>
<text class="yl" x="410.48" y="445.62" text-anchor="middle">6</text>
<text class="yl" x="410.48" y="465.81" text-anchor="middle">3</text>
<text class="yl" x="410.48" y="486" text-anchor="middle">0</text>
<text class="xl" x="362.33" y="499.8" text-anchor="middle">6a</text>
<text class="xl" x="382.23" y="499.8" text-anchor="middle">12</text>
<text class="xl" x="402.13" y="499.8" text-anchor="middle">6p</text>
<text class="dn" x="403.58" y="434.6">31</text>
<path d="M19.5 70.5H583.0M19.5 86.5H583.0M19.5 170.4H583.0M19.5 253.9H583.0M19.5 337.4H583.0M19.5 421.4H583.0M19.5 504.4H583.0M19.5 70.5V504.4M583.0 70.5V504.4M99.5 70.5V86.5M180.5 70.5V86.5M260.8 70.5V86.5M341.5 70.5V86.5M422 70.5V86.5M502.5 70.5V86.5M180.5 86.5V170.4M260.8 86.5V170.4M341.5 86.5V170.4M422 86.5V170.4M502.5 86.5V170.4M99.5 170.4V253.9M180.5 170.4V253.9M260.8 170.4V253.9M341.5 170.4V253.9M422 170.4V253.9M502.5 170.4V253.9M99.5 253.9V337.4M180.5 253.9V337.4M260.8 253.9V337.4M341.5 253.9V337.4M422 253.9V337.4M502.5 253.9V337.4M99.5 337.4V421.4M180.5 337.4V421.4M260.8 337.4V421.4M341.5 337.4V421.4M422 337.4V421.4M502.5 337.4V421.4M99.5 421.4V504.4M180.5 421.4V504.4M260.8 421.4V504.4M341.5 421.4V504.4M422 421.4V504.4" stroke="#98A1B1" stroke-width="1" fill="none"/>
</svg></body></html>
